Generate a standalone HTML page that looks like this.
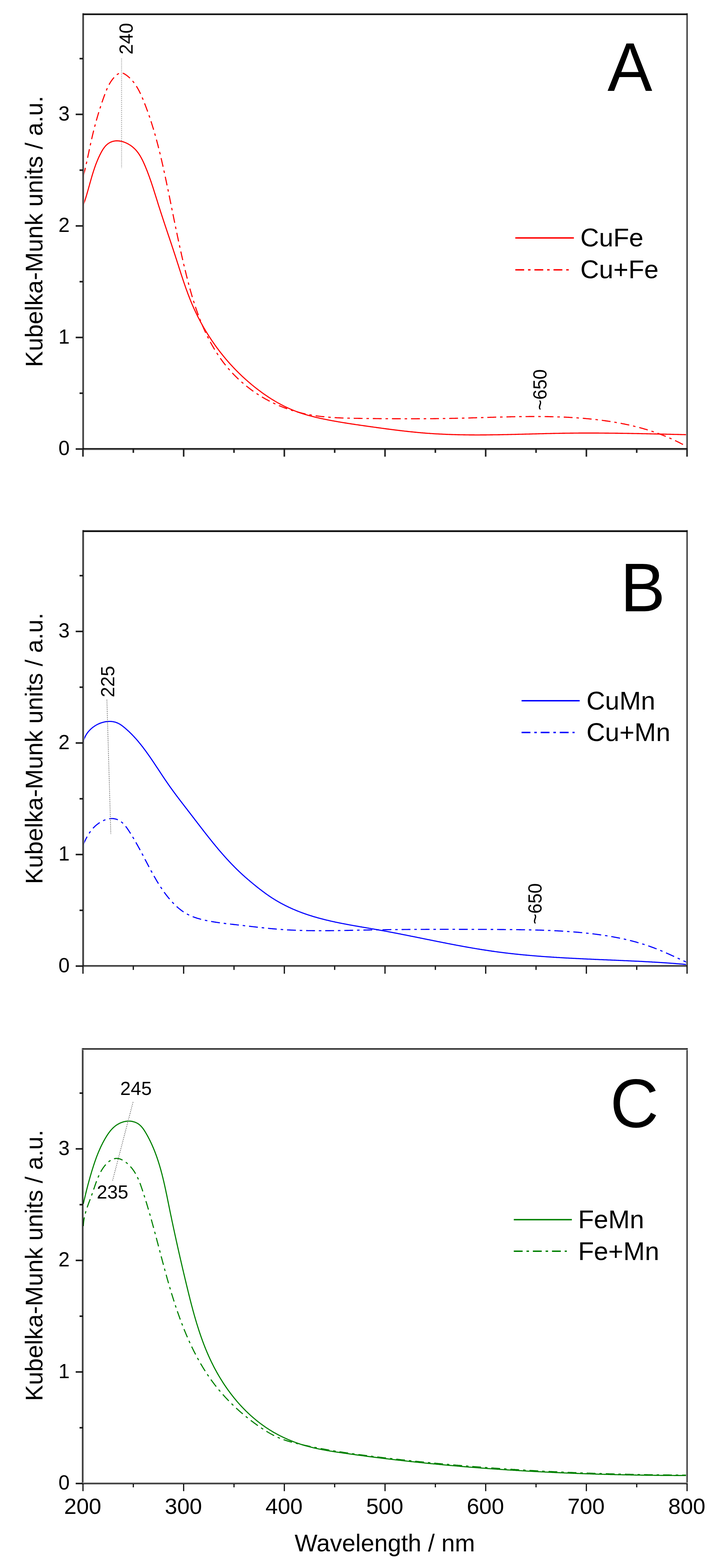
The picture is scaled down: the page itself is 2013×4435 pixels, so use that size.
<!DOCTYPE html><html><head><meta charset="utf-8"><title>Kubelka-Munk spectra</title>
<style>html,body{margin:0;padding:0;background:#fff}svg{display:block}text{font-family:'Liberation Sans', Arial, sans-serif;fill:#000}</style></head><body>
<svg width="2013" height="4435" viewBox="0 0 2013 4435">
<rect x="0" y="0" width="2013" height="4435" fill="#fff"/>
<clipPath id="clipA"><rect x="234.6" y="40" width="1707.9" height="1230"/></clipPath>
<g clip-path="url(#clipA)" fill="none" stroke="#ff0000" stroke-width="3.1" stroke-linejoin="round">
<path d="M235.4,580.5 236.1,578.6 236.8,576.7 237.4,574.8 238.1,572.9 238.7,571 239.4,569.1 240,567.2 240.6,565.3 241.2,563.4 241.8,561.5 242.4,559.6 243,557.7 243.6,555.8 244.1,553.9 244.7,552 245.3,550.1 245.8,548.1 246.4,546.2 247,544.3 247.5,542.4 248,540.5 248.6,538.6 249.1,536.6 249.7,534.7 250.2,532.8 250.7,530.9 251.3,528.9 251.8,527 252.4,525.1 252.9,523.2 253.4,521.3 254,519.3 254.5,517.4 255,515.5 255.6,513.6 256.1,511.7 256.7,509.7 257.2,507.8 257.8,505.9 258.3,504 258.9,502.1 259.4,500.1 260,498.2 260.6,496.3 261.1,494.4 261.7,492.5 262.3,490.6 262.9,488.7 263.5,486.8 264.1,484.9 264.7,483 265.3,481.1 266,479.2 266.6,477.3 267.2,475.4 267.9,473.5 268.6,471.6 269.2,469.7 269.9,467.8 270.6,465.9 271.3,464 272,462.2 272.8,460.3 273.5,458.4 274.3,456.5 275,454.7 275.8,452.8 276.6,451 277.4,449.1 278.2,447.2 279,445.4 279.9,443.5 280.8,441.7 281.6,439.9 282.5,438 283.4,436.2 284.4,434.4 285.3,432.5 286.3,430.7 287.2,428.9 288.3,427.2 289.3,425.4 290.3,423.7 291.4,422 292.5,420.3 293.7,418.7 294.9,417.1 296.1,415.6 297.3,414.1 298.6,412.6 300,411.2 301.4,409.9 302.8,408.6 304.2,407.4 305.8,406.3 307.3,405.2 308.9,404.2 310.5,403.3 312.2,402.4 313.9,401.7 315.7,401 317.4,400.4 319.2,399.8 321,399.4 322.9,399 324.8,398.7 326.6,398.5 328.5,398.4 330.5,398.3 332.4,398.4 334.3,398.5 336.3,398.6 338.2,398.9 340.2,399.2 342.1,399.6 344.1,400 346,400.5 348,401.1 349.9,401.7 351.9,402.4 353.8,403.1 355.7,403.9 357.6,404.8 359.4,405.7 361.3,406.6 363.1,407.6 364.9,408.7 366.7,409.8 368.4,410.9 370.1,412.1 371.8,413.3 373.4,414.5 375,415.8 376.6,417.1 378.1,418.5 379.6,419.8 381.1,421.2 382.5,422.7 383.8,424.1 385.1,425.6 386.4,427.1 387.7,428.7 388.9,430.2 390.1,431.8 391.3,433.4 392.4,435.1 393.5,436.7 394.6,438.4 395.7,440.1 396.7,441.8 397.7,443.5 398.7,445.2 399.6,447 400.6,448.7 401.5,450.5 402.4,452.3 403.3,454.1 404.2,455.9 405,457.7 405.9,459.5 406.7,461.4 407.5,463.2 408.3,465 409.1,466.9 409.9,468.7 410.7,470.6 411.5,472.4 412.2,474.3 413,476.1 413.7,478 414.5,479.9 415.2,481.7 416,483.6 416.7,485.4 417.4,487.3 418.1,489.2 418.8,491 419.5,492.9 420.2,494.8 420.9,496.7 421.6,498.5 422.3,500.4 423,502.3 423.6,504.2 424.3,506.1 425,508 425.6,509.8 426.3,511.7 426.9,513.6 427.6,515.5 428.2,517.4 428.8,519.3 429.5,521.2 430.1,523.1 430.7,525 431.3,526.9 432,528.8 432.6,530.7 433.2,532.6 433.8,534.5 434.4,536.4 435,538.3 435.6,540.2 436.2,542.1 436.8,544 437.4,545.9 438,547.8 438.6,549.7 439.2,551.6 439.8,553.5 440.4,555.4 441,557.3 441.6,559.2 442.2,561.1 442.8,563 443.4,564.9 444,566.8 444.6,568.7 445.2,570.6 445.8,572.5 446.3,574.4 446.9,576.3 447.5,578.2 448.1,580.1 448.7,582 449.3,583.9 449.9,585.8 450.6,587.7 451.2,589.6 451.8,591.5 452.4,593.4 453,595.3 453.6,597.2 454.2,599.1 454.8,601 455.4,602.9 456.1,604.8 456.7,606.7 457.3,608.6 457.9,610.5 458.5,612.4 459.2,614.3 459.8,616.2 460.4,618.1 461,620 461.7,621.9 462.3,623.8 462.9,625.7 463.5,627.6 464.2,629.5 464.8,631.4 465.4,633.3 466.1,635.2 466.7,637.1 467.3,639 467.9,640.9 468.6,642.7 469.2,644.6 469.8,646.5 470.5,648.4 471.1,650.3 471.7,652.2 472.4,654.1 473,656 473.6,657.9 474.3,659.8 474.9,661.7 475.5,663.6 476.2,665.5 476.8,667.4 477.5,669.3 478.1,671.2 478.7,673 479.4,674.9 480,676.8 480.6,678.7 481.3,680.6 481.9,682.5 482.5,684.4 483.2,686.3 483.8,688.2 484.4,690.1 485.1,692 485.7,693.9 486.3,695.8 486.9,697.7 487.6,699.6 488.2,701.5 488.8,703.4 489.5,705.3 490.1,707.2 490.7,709.1 491.3,711 492,712.9 492.6,714.8 493.2,716.7 493.8,718.6 494.5,720.5 495.1,722.4 495.7,724.3 496.3,726.2 496.9,728.1 497.5,730 498.2,731.9 498.8,733.8 499.4,735.7 500,737.6 500.6,739.5 501.2,741.4 501.8,743.3 502.4,745.2 503.1,747.1 503.7,749 504.3,750.9 504.9,752.8 505.5,754.7 506.1,756.7 506.7,758.6 507.3,760.5 507.9,762.4 508.6,764.3 509.2,766.2 509.8,768.1 510.4,770 511,771.9 511.6,773.8 512.2,775.7 512.9,777.6 513.5,779.5 514.1,781.4 514.7,783.3 515.4,785.2 516,787.1 516.6,789 517.2,790.9 517.9,792.8 518.5,794.7 519.2,796.6 519.8,798.5 520.4,800.4 521.1,802.3 521.7,804.1 522.4,806 523,807.9 523.7,809.8 524.3,811.7 525,813.6 525.7,815.5 526.3,817.3 527,819.2 527.7,821.1 528.4,823 529.1,824.8 529.8,826.7 530.4,828.6 531.1,830.5 531.8,832.3 532.6,834.2 533.3,836.1 534,837.9 534.7,839.8 535.4,841.6 536.1,843.5 536.9,845.4 537.6,847.2 538.4,849.1 539.1,850.9 539.9,852.8 540.6,854.6 541.4,856.4 542.2,858.3 542.9,860.1 543.7,861.9 544.5,863.8 545.3,865.6 546.1,867.4 546.9,869.3 547.7,871.1 548.5,872.9 549.4,874.7 550.2,876.5 551,878.3 551.9,880.2 552.7,882 553.6,883.8 554.4,885.6 555.3,887.4 556.2,889.2 557.1,890.9 557.9,892.7 558.8,894.5 559.7,896.3 560.6,898.1 561.5,899.9 562.4,901.6 563.4,903.4 564.3,905.2 565.2,906.9 566.2,908.7 567.1,910.5 568,912.2 569,914 570,915.7 570.9,917.5 571.9,919.2 572.9,921 573.9,922.7 574.8,924.4 575.8,926.2 576.8,927.9 577.8,929.6 578.9,931.3 579.9,933.1 580.9,934.8 581.9,936.5 583,938.2 584,939.9 585,941.6 586.1,943.3 587.1,945 588.2,946.7 589.3,948.4 590.3,950.1 591.4,951.8 592.5,953.4 593.6,955.1 594.7,956.8 595.8,958.4 596.9,960.1 598,961.8 599.1,963.4 600.2,965.1 601.4,966.7 602.5,968.4 603.6,970 604.8,971.7 605.9,973.3 607.1,974.9 608.2,976.6 609.4,978.2 610.6,979.8 611.7,981.4 612.9,983 614.1,984.6 615.3,986.2 616.5,987.8 617.7,989.4 618.9,991 620.1,992.6 621.3,994.2 622.6,995.8 623.8,997.4 625,998.9 626.3,1000.5 627.5,1002.1 628.8,1003.6 630,1005.2 631.3,1006.7 632.5,1008.3 633.8,1009.8 635.1,1011.3 636.4,1012.9 637.6,1014.4 638.9,1015.9 640.2,1017.5 641.5,1019 642.8,1020.5 644.1,1022 645.5,1023.5 646.8,1025 648.1,1026.5 649.4,1028 650.8,1029.5 652.1,1031 653.4,1032.4 654.8,1033.9 656.2,1035.4 657.5,1036.8 658.9,1038.3 660.2,1039.8 661.6,1041.2 663,1042.6 664.4,1044.1 665.8,1045.5 667.2,1047 668.6,1048.4 670,1049.8 671.4,1051.2 672.8,1052.6 674.2,1054 675.6,1055.4 677.1,1056.8 678.5,1058.2 679.9,1059.6 681.4,1061 682.8,1062.4 684.3,1063.8 685.7,1065.1 687.2,1066.5 688.7,1067.8 690.1,1069.2 691.6,1070.5 693.1,1071.9 694.6,1073.2 696.1,1074.6 697.6,1075.9 699.1,1077.2 700.6,1078.5 702.1,1079.8 703.6,1081.1 705.1,1082.4 706.6,1083.7 708.2,1085 709.7,1086.3 711.2,1087.6 712.8,1088.9 714.3,1090.1 715.9,1091.4 717.4,1092.7 719,1093.9 720.5,1095.2 722.1,1096.4 723.7,1097.6 725.2,1098.9 726.8,1100.1 728.4,1101.3 730,1102.5 731.6,1103.7 733.2,1104.9 734.8,1106.1 736.4,1107.3 738,1108.5 739.6,1109.7 741.2,1110.9 742.9,1112 744.5,1113.2 746.1,1114.4 747.8,1115.5 749.4,1116.6 751.1,1117.8 752.7,1118.9 754.4,1120 756,1121.1 757.7,1122.3 759.4,1123.4 761,1124.5 762.7,1125.5 764.4,1126.6 766.1,1127.7 767.8,1128.8 769.5,1129.8 771.2,1130.9 772.9,1131.9 774.6,1132.9 776.3,1134 778,1135 779.7,1136 781.5,1137 783.2,1138 784.9,1139 786.7,1140 788.4,1140.9 790.2,1141.9 791.9,1142.8 793.7,1143.8 795.4,1144.7 797.2,1145.6 799,1146.6 800.7,1147.5 802.5,1148.4 804.3,1149.3 806.1,1150.1 807.9,1151 809.7,1151.9 811.5,1152.7 813.3,1153.6 815.1,1154.4 816.9,1155.2 818.7,1156 820.5,1156.8 822.4,1157.6 824.2,1158.4 826,1159.2 827.9,1159.9 829.7,1160.7 831.6,1161.4 833.4,1162.2 835.3,1162.9 837.1,1163.6 839,1164.3 840.9,1165 842.8,1165.7 844.6,1166.3 846.5,1167 848.4,1167.7 850.3,1168.3 852.2,1168.9 854.1,1169.5 856,1170.2 857.9,1170.8 859.8,1171.3 861.7,1171.9 863.6,1172.5 865.5,1173.1 867.4,1173.6 869.4,1174.2 871.3,1174.7 873.2,1175.3 875.2,1175.8 877.1,1176.3 879,1176.8 881,1177.3 882.9,1177.8 884.8,1178.3 886.8,1178.8 888.7,1179.3 890.7,1179.8 892.6,1180.2 894.6,1180.7 896.5,1181.2 898.5,1181.6 900.4,1182.1 902.4,1182.5 904.3,1182.9 906.3,1183.4 908.3,1183.8 910.2,1184.2 912.2,1184.6 914.2,1185 916.1,1185.4 918.1,1185.8 920,1186.2 922,1186.6 924,1187 925.9,1187.4 927.9,1187.8 929.9,1188.2 931.8,1188.5 933.8,1188.9 935.8,1189.3 937.7,1189.7 939.7,1190 941.7,1190.4 943.6,1190.7 945.6,1191.1 947.6,1191.4 949.5,1191.8 951.5,1192.1 953.5,1192.5 955.4,1192.8 957.4,1193.2 959.4,1193.5 961.3,1193.8 963.3,1194.2 965.3,1194.5 967.2,1194.8 969.2,1195.2 971.2,1195.5 973.1,1195.8 975.1,1196.1 977.1,1196.4 979,1196.7 981,1197.1 983,1197.4 985,1197.7 986.9,1198 988.9,1198.3 990.9,1198.6 992.8,1198.9 994.8,1199.2 996.8,1199.5 998.8,1199.8 1000.7,1200.1 1002.7,1200.4 1004.7,1200.7 1006.6,1201 1008.6,1201.3 1010.6,1201.5 1012.6,1201.8 1014.5,1202.1 1016.5,1202.4 1018.5,1202.7 1020.5,1203 1022.4,1203.3 1024.4,1203.5 1026.4,1203.8 1028.4,1204.1 1030.3,1204.4 1032.3,1204.7 1034.3,1204.9 1036.3,1205.2 1038.2,1205.5 1040.2,1205.8 1042.2,1206.1 1044.2,1206.3 1046.1,1206.6 1048.1,1206.9 1050.1,1207.2 1052.1,1207.4 1054,1207.7 1056,1208 1058,1208.3 1060,1208.5 1062,1208.8 1063.9,1209.1 1065.9,1209.4 1067.9,1209.6 1069.9,1209.9 1071.9,1210.2 1073.8,1210.4 1075.8,1210.7 1077.8,1211 1079.8,1211.3 1081.8,1211.5 1083.7,1211.8 1085.7,1212.1 1087.7,1212.3 1089.7,1212.6 1091.7,1212.9 1093.6,1213.1 1095.6,1213.4 1097.6,1213.6 1099.6,1213.9 1101.6,1214.2 1103.6,1214.4 1105.5,1214.7 1107.5,1214.9 1109.5,1215.2 1111.5,1215.4 1113.5,1215.7 1115.5,1215.9 1117.4,1216.2 1119.4,1216.4 1121.4,1216.7 1123.4,1216.9 1125.4,1217.2 1127.4,1217.4 1129.3,1217.6 1131.3,1217.9 1133.3,1218.1 1135.3,1218.3 1137.3,1218.6 1139.3,1218.8 1141.3,1219 1143.2,1219.3 1145.2,1219.5 1147.2,1219.7 1149.2,1219.9 1151.2,1220.1 1153.2,1220.4 1155.2,1220.6 1157.2,1220.8 1159.1,1221 1161.1,1221.2 1163.1,1221.4 1165.1,1221.6 1167.1,1221.8 1169.1,1222 1171.1,1222.2 1173.1,1222.4 1175,1222.6 1177,1222.8 1179,1223 1181,1223.2 1183,1223.4 1185,1223.5 1187,1223.7 1189,1223.9 1191,1224.1 1193,1224.2 1194.9,1224.4 1196.9,1224.6 1198.9,1224.7 1200.9,1224.9 1202.9,1225.1 1204.9,1225.2 1206.9,1225.4 1208.9,1225.5 1210.9,1225.7 1212.9,1225.8 1214.9,1225.9 1216.8,1226.1 1218.8,1226.2 1220.8,1226.3 1222.8,1226.5 1224.8,1226.6 1226.8,1226.7 1228.8,1226.9 1230.8,1227 1232.8,1227.1 1234.8,1227.2 1236.8,1227.3 1238.8,1227.4 1240.8,1227.5 1242.8,1227.6 1244.7,1227.7 1246.7,1227.8 1248.7,1227.9 1250.7,1228 1252.7,1228.1 1254.7,1228.2 1256.7,1228.3 1258.7,1228.4 1260.7,1228.5 1262.7,1228.6 1264.7,1228.6 1266.7,1228.7 1268.7,1228.8 1270.7,1228.9 1272.7,1228.9 1274.7,1229 1276.7,1229.1 1278.6,1229.1 1280.6,1229.2 1282.6,1229.2 1284.6,1229.3 1286.6,1229.4 1288.6,1229.4 1290.6,1229.5 1292.6,1229.5 1294.6,1229.6 1296.6,1229.6 1298.6,1229.6 1300.6,1229.7 1302.6,1229.7 1304.6,1229.8 1306.6,1229.8 1308.6,1229.8 1310.6,1229.9 1312.6,1229.9 1314.6,1229.9 1316.6,1230 1318.6,1230 1320.6,1230 1322.6,1230 1324.6,1230 1326.6,1230.1 1328.6,1230.1 1330.6,1230.1 1332.6,1230.1 1334.5,1230.1 1336.5,1230.1 1338.5,1230.1 1340.5,1230.1 1342.5,1230.2 1344.5,1230.2 1346.5,1230.2 1348.5,1230.2 1350.5,1230.2 1352.5,1230.2 1354.5,1230.2 1356.5,1230.2 1358.5,1230.1 1360.5,1230.1 1362.5,1230.1 1364.5,1230.1 1366.5,1230.1 1368.5,1230.1 1370.5,1230.1 1372.5,1230.1 1374.5,1230.1 1376.5,1230 1378.5,1230 1380.5,1230 1382.5,1230 1384.5,1230 1386.5,1229.9 1388.5,1229.9 1390.5,1229.9 1392.5,1229.9 1394.5,1229.8 1396.5,1229.8 1398.5,1229.8 1400.5,1229.8 1402.5,1229.7 1404.5,1229.7 1406.5,1229.7 1408.5,1229.6 1410.5,1229.6 1412.5,1229.6 1414.5,1229.5 1416.5,1229.5 1418.5,1229.5 1420.5,1229.4 1422.5,1229.4 1424.5,1229.3 1426.5,1229.3 1428.5,1229.3 1430.5,1229.2 1432.5,1229.2 1434.5,1229.1 1436.5,1229.1 1438.5,1229 1440.5,1229 1442.5,1229 1444.5,1228.9 1446.5,1228.9 1448.5,1228.8 1450.5,1228.8 1452.5,1228.7 1454.5,1228.7 1456.5,1228.6 1458.5,1228.6 1460.5,1228.5 1462.5,1228.5 1464.5,1228.4 1466.5,1228.4 1468.5,1228.3 1470.5,1228.3 1472.5,1228.2 1474.5,1228.2 1476.5,1228.1 1478.5,1228.1 1480.5,1228 1482.5,1228 1484.5,1227.9 1486.5,1227.9 1488.5,1227.8 1490.5,1227.8 1492.5,1227.7 1494.5,1227.7 1496.5,1227.6 1498.5,1227.6 1500.5,1227.5 1502.5,1227.5 1504.5,1227.4 1506.5,1227.3 1508.5,1227.3 1510.5,1227.2 1512.5,1227.2 1514.5,1227.1 1516.5,1227.1 1518.5,1227 1520.5,1227 1522.5,1226.9 1524.5,1226.9 1526.5,1226.8 1528.5,1226.8 1530.5,1226.7 1532.5,1226.7 1534.5,1226.6 1536.5,1226.6 1538.5,1226.5 1540.5,1226.5 1542.5,1226.4 1544.5,1226.4 1546.5,1226.3 1548.5,1226.3 1550.5,1226.2 1552.5,1226.2 1554.5,1226.2 1556.5,1226.1 1558.5,1226.1 1560.5,1226 1562.5,1226 1564.5,1225.9 1566.5,1225.9 1568.5,1225.9 1570.5,1225.8 1572.5,1225.8 1574.5,1225.7 1576.5,1225.7 1578.5,1225.7 1580.5,1225.6 1582.5,1225.6 1584.5,1225.5 1586.5,1225.5 1588.5,1225.5 1590.5,1225.4 1592.5,1225.4 1594.5,1225.4 1596.5,1225.4 1598.4,1225.3 1600.4,1225.3 1602.4,1225.3 1604.4,1225.2 1606.4,1225.2 1608.4,1225.2 1610.4,1225.2 1612.4,1225.1 1614.4,1225.1 1616.4,1225.1 1618.4,1225.1 1620.4,1225.1 1622.4,1225 1624.4,1225 1626.4,1225 1628.4,1225 1630.4,1225 1632.4,1225 1634.4,1225 1636.4,1224.9 1638.4,1224.9 1640.4,1224.9 1642.4,1224.9 1644.4,1224.9 1646.4,1224.9 1648.4,1224.9 1650.4,1224.9 1652.4,1224.9 1654.4,1224.9 1656.4,1224.9 1658.4,1224.9 1660.4,1224.9 1662.4,1224.9 1664.4,1224.9 1666.4,1224.9 1668.4,1224.9 1670.4,1224.9 1672.3,1224.9 1674.3,1224.9 1676.3,1224.9 1678.3,1224.9 1680.3,1224.9 1682.3,1224.9 1684.3,1224.9 1686.3,1224.9 1688.3,1224.9 1690.3,1224.9 1692.3,1224.9 1694.3,1225 1696.3,1225 1698.3,1225 1700.3,1225 1702.3,1225 1704.3,1225 1706.3,1225 1708.3,1225 1710.3,1225.1 1712.3,1225.1 1714.3,1225.1 1716.3,1225.1 1718.3,1225.1 1720.3,1225.1 1722.3,1225.2 1724.3,1225.2 1726.2,1225.2 1728.2,1225.2 1730.2,1225.2 1732.2,1225.3 1734.2,1225.3 1736.2,1225.3 1738.2,1225.3 1740.2,1225.4 1742.2,1225.4 1744.2,1225.4 1746.2,1225.4 1748.2,1225.5 1750.2,1225.5 1752.2,1225.5 1754.2,1225.6 1756.2,1225.6 1758.2,1225.6 1760.2,1225.6 1762.2,1225.7 1764.2,1225.7 1766.2,1225.7 1768.2,1225.8 1770.2,1225.8 1772.2,1225.8 1774.2,1225.9 1776.2,1225.9 1778.2,1225.9 1780.1,1226 1782.1,1226 1784.1,1226 1786.1,1226.1 1788.1,1226.1 1790.1,1226.1 1792.1,1226.2 1794.1,1226.2 1796.1,1226.2 1798.1,1226.3 1800.1,1226.3 1802.1,1226.4 1804.1,1226.4 1806.1,1226.4 1808.1,1226.5 1810.1,1226.5 1812.1,1226.5 1814.1,1226.6 1816.1,1226.6 1818.1,1226.7 1820.1,1226.7 1822.1,1226.8 1824.1,1226.8 1826.1,1226.8 1828.1,1226.9 1830.1,1226.9 1832.1,1227 1834.1,1227 1836.1,1227 1838.1,1227.1 1840.1,1227.1 1842,1227.2 1844,1227.2 1846,1227.3 1848,1227.3 1850,1227.4 1852,1227.4 1854,1227.4 1856,1227.5 1858,1227.5 1860,1227.6 1862,1227.6 1864,1227.7 1866,1227.7 1868,1227.8 1870,1227.8 1872,1227.9 1874,1227.9 1876,1227.9 1878,1228 1880,1228 1882,1228.1 1884,1228.1 1886,1228.2 1888,1228.2 1890,1228.3 1892,1228.3 1894,1228.4 1896,1228.4 1898,1228.5 1900,1228.5 1902,1228.6 1904,1228.6 1906,1228.7 1908,1228.7 1910,1228.7 1912,1228.8 1914,1228.8 1916,1228.9 1918,1228.9 1920,1229 1922,1229 1924,1229.1 1926,1229.1 1928,1229.2 1930,1229.2 1932,1229.3 1934,1229.3 1936,1229.4 1938,1229.4 1940,1229.5 1942,1229.5"/>
<path d="M235.5,499 236,497.1 236.5,495.1 237,493.2 237.4,491.2 237.9,489.3 238.4,487.4 238.9,485.4 239.3,483.5 239.8,481.5 240.3,479.6 240.7,477.6 241.2,475.7 241.6,473.8 242.1,471.8 242.5,469.9 242.9,467.9 243.4,466 243.8,464 244.2,462.1 244.7,460.1 245.1,458.2 245.5,456.2 246,454.3 246.4,452.3 246.8,450.3 247.2,448.4 247.6,446.4 248.1,444.5 248.5,442.5 248.9,440.6 249.3,438.6 249.7,436.7 250.1,434.7 250.6,432.8 251,430.8 251.4,428.8 251.8,426.9 252.2,424.9 252.6,423 253.1,421 253.5,419.1 253.9,417.1 254.3,415.2 254.7,413.2 255.2,411.3 255.6,409.3 256,407.4 256.4,405.4 256.9,403.5 257.3,401.5 257.7,399.6 258.2,397.6 258.6,395.7 259,393.7 259.5,391.8 259.9,389.8 260.4,387.9 260.8,385.9 261.3,384 261.7,382 262.2,380.1 262.7,378.1 263.1,376.2 263.6,374.3 264.1,372.3 264.6,370.4 265.1,368.4 265.6,366.5 266,364.6 266.5,362.6 267,360.7 267.5,358.8 268.1,356.8 268.6,354.9 269.1,353 269.6,351 270.1,349.1 270.6,347.2 271.2,345.3 271.7,343.3 272.2,341.4 272.8,339.5 273.3,337.6 273.9,335.6 274.4,333.7 275,331.8 275.5,329.9 276.1,328 276.7,326.1 277.2,324.1 277.8,322.2 278.4,320.3 279,318.4 279.6,316.5 280.1,314.6 280.7,312.7 281.3,310.8 281.9,308.9 282.5,307 283.2,305.1 283.8,303.2 284.4,301.3 285,299.4 285.6,297.5 286.3,295.6 286.9,293.7 287.5,291.8 288.2,289.9 288.8,288 289.5,286.2 290.1,284.3 290.8,282.4 291.4,280.5 292.1,278.6 292.8,276.7 293.5,274.9 294.1,273 294.8,271.1 295.5,269.3 296.2,267.4 296.9,265.5 297.6,263.7 298.3,261.8 299,259.9 299.8,258.1 300.5,256.2 301.3,254.4 302,252.6 302.8,250.7 303.6,248.9 304.5,247.1 305.3,245.3 306.2,243.5 307.1,241.7 308,239.9 309,238.2 310,236.4 311,234.7 312.1,233 313.2,231.2 314.3,229.5 315.5,227.9 316.7,226.2 317.9,224.6 319.2,222.9 320.5,221.3 321.9,219.7 323.4,218.1 324.8,216.6 326.4,215.1 327.9,213.6 329.5,212.2 331.2,210.9 332.8,209.8 334.5,208.7 336.2,207.9 338,207.2 339.7,206.6 341.5,206.3 343.2,206.3 345,206.4 346.7,206.8 348.5,207.4 350.2,208.2 351.9,209.1 353.6,210.1 355.3,211.2 357,212.4 358.6,213.6 360.1,214.8 361.7,216 363.2,217.3 364.7,218.6 366.1,219.9 367.6,221.3 369,222.7 370.3,224.1 371.7,225.5 373,226.9 374.3,228.4 375.6,229.9 376.8,231.4 378,232.9 379.2,234.5 380.4,236.1 381.5,237.7 382.6,239.3 383.7,240.9 384.8,242.6 385.9,244.2 386.9,245.9 387.9,247.6 389,249.3 389.9,251 390.9,252.8 391.9,254.5 392.8,256.3 393.7,258.1 394.6,259.8 395.5,261.6 396.4,263.4 397.3,265.3 398.1,267.1 399,268.9 399.8,270.8 400.6,272.6 401.4,274.5 402.2,276.3 403,278.2 403.8,280 404.6,281.9 405.3,283.8 406.1,285.7 406.8,287.5 407.6,289.4 408.3,291.3 409.1,293.2 409.8,295.1 410.5,296.9 411.3,298.8 412,300.7 412.7,302.6 413.4,304.5 414.1,306.4 414.8,308.3 415.5,310.2 416.2,312 416.9,313.9 417.6,315.8 418.3,317.7 418.9,319.6 419.6,321.5 420.3,323.4 420.9,325.3 421.6,327.2 422.2,329.1 422.9,331 423.5,332.9 424.2,334.8 424.8,336.7 425.4,338.6 426,340.5 426.7,342.4 427.3,344.3 427.9,346.2 428.5,348.1 429.1,350 429.7,351.9 430.3,353.9 430.9,355.8 431.5,357.7 432.1,359.6 432.7,361.5 433.3,363.4 433.8,365.3 434.4,367.2 435,369.2 435.5,371.1 436.1,373 436.7,374.9 437.2,376.8 437.8,378.7 438.3,380.7 438.9,382.6 439.4,384.5 439.9,386.4 440.5,388.3 441,390.3 441.5,392.2 442.1,394.1 442.6,396 443.1,398 443.6,399.9 444.1,401.8 444.6,403.7 445.1,405.7 445.7,407.6 446.2,409.5 446.7,411.4 447.2,413.4 447.6,415.3 448.1,417.2 448.6,419.2 449.1,421.1 449.6,423 450.1,425 450.6,426.9 451,428.8 451.5,430.8 452,432.7 452.5,434.6 452.9,436.6 453.4,438.5 453.9,440.5 454.3,442.4 454.8,444.3 455.2,446.3 455.7,448.2 456.1,450.1 456.6,452.1 457.1,454 457.5,456 457.9,457.9 458.4,459.9 458.8,461.8 459.3,463.7 459.7,465.7 460.2,467.6 460.6,469.6 461,471.5 461.5,473.5 461.9,475.4 462.3,477.4 462.7,479.3 463.2,481.2 463.6,483.2 464,485.1 464.5,487.1 464.9,489 465.3,491 465.7,492.9 466.1,494.9 466.6,496.8 467,498.8 467.4,500.7 467.8,502.7 468.2,504.6 468.6,506.6 469,508.5 469.5,510.5 469.9,512.4 470.3,514.4 470.7,516.4 471.1,518.3 471.5,520.3 471.9,522.2 472.3,524.2 472.7,526.1 473.1,528.1 473.5,530 473.9,532 474.3,533.9 474.8,535.9 475.2,537.9 475.6,539.8 476,541.8 476.4,543.7 476.8,545.7 477.2,547.6 477.6,549.6 478,551.6 478.4,553.5 478.8,555.5 479.2,557.4 479.6,559.4 480,561.3 480.4,563.3 480.8,565.3 481.2,567.2 481.6,569.2 482,571.1 482.4,573.1 482.8,575 483.2,577 483.5,579 483.9,580.9 484.3,582.9 484.7,584.8 485.1,586.8 485.5,588.8 485.9,590.7 486.3,592.7 486.7,594.6 487.1,596.6 487.5,598.6 487.9,600.5 488.3,602.5 488.7,604.4 489.1,606.4 489.5,608.4 489.9,610.3 490.3,612.3 490.7,614.2 491.1,616.2 491.5,618.2 491.9,620.1 492.3,622.1 492.7,624 493.1,626 493.5,628 493.9,629.9 494.3,631.9 494.7,633.8 495.1,635.8 495.5,637.8 495.9,639.7 496.3,641.7 496.7,643.6 497.1,645.6 497.5,647.5 497.9,649.5 498.4,651.5 498.8,653.4 499.2,655.4 499.6,657.3 500,659.3 500.4,661.3 500.8,663.2 501.2,665.2 501.6,667.1 502,669.1 502.5,671 502.9,673 503.3,675 503.7,676.9 504.1,678.9 504.5,680.8 505,682.8 505.4,684.7 505.8,686.7 506.2,688.6 506.6,690.6 507.1,692.6 507.5,694.5 507.9,696.5 508.3,698.4 508.8,700.4 509.2,702.3 509.6,704.3 510.1,706.2 510.5,708.2 510.9,710.1 511.4,712.1 511.8,714 512.2,716 512.7,717.9 513.1,719.9 513.5,721.8 514,723.8 514.4,725.7 514.9,727.7 515.3,729.6 515.8,731.6 516.2,733.5 516.7,735.5 517.1,737.4 517.6,739.4 518,741.3 518.5,743.3 518.9,745.2 519.4,747.2 519.8,749.1 520.3,751 520.8,753 521.2,754.9 521.7,756.9 522.2,758.8 522.6,760.8 523.1,762.7 523.6,764.6 524.1,766.6 524.5,768.5 525,770.5 525.5,772.4 526,774.3 526.4,776.3 526.9,778.2 527.4,780.2 527.9,782.1 528.4,784 528.9,786 529.4,787.9 529.9,789.8 530.4,791.8 530.9,793.7 531.4,795.6 531.9,797.6 532.4,799.5 532.9,801.4 533.4,803.4 533.9,805.3 534.4,807.2 535,809.1 535.5,811.1 536,813 536.5,814.9 537.1,816.8 537.6,818.8 538.1,820.7 538.7,822.6 539.2,824.5 539.8,826.5 540.3,828.4 540.9,830.3 541.4,832.2 542,834.1 542.5,836 543.1,838 543.7,839.9 544.3,841.8 544.8,843.7 545.4,845.6 546,847.5 546.6,849.4 547.2,851.3 547.8,853.2 548.4,855.1 549,857 549.6,858.9 550.2,860.8 550.8,862.7 551.4,864.6 552.1,866.5 552.7,868.4 553.3,870.3 554,872.2 554.6,874.1 555.3,876 555.9,877.9 556.6,879.7 557.3,881.6 557.9,883.5 558.6,885.4 559.3,887.3 560,889.1 560.6,891 561.3,892.9 562,894.8 562.7,896.6 563.5,898.5 564.2,900.4 564.9,902.2 565.6,904.1 566.4,906 567.1,907.8 567.8,909.7 568.6,911.5 569.3,913.4 570.1,915.2 570.9,917.1 571.6,918.9 572.4,920.8 573.2,922.6 574,924.5 574.8,926.3 575.6,928.1 576.4,930 577.2,931.8 578,933.6 578.9,935.5 579.7,937.3 580.5,939.1 581.4,940.9 582.2,942.7 583.1,944.5 584,946.3 584.8,948.1 585.7,949.9 586.6,951.7 587.5,953.5 588.4,955.3 589.3,957.1 590.2,958.9 591.1,960.6 592,962.4 593,964.2 593.9,965.9 594.9,967.7 595.8,969.5 596.8,971.2 597.7,973 598.7,974.7 599.7,976.5 600.7,978.2 601.7,979.9 602.7,981.6 603.7,983.4 604.7,985.1 605.7,986.8 606.7,988.5 607.8,990.2 608.8,991.9 609.9,993.6 610.9,995.3 612,997 613.1,998.7 614.2,1000.3 615.2,1002 616.3,1003.7 617.5,1005.3 618.6,1007 619.7,1008.6 620.8,1010.3 622,1011.9 623.1,1013.5 624.2,1015.2 625.4,1016.8 626.6,1018.4 627.8,1020 628.9,1021.6 630.1,1023.2 631.3,1024.8 632.5,1026.4 633.8,1027.9 635,1029.5 636.2,1031.1 637.5,1032.6 638.7,1034.2 640,1035.7 641.2,1037.3 642.5,1038.8 643.8,1040.3 645.1,1041.9 646.4,1043.4 647.7,1044.9 649,1046.4 650.3,1047.9 651.7,1049.4 653,1050.8 654.3,1052.3 655.7,1053.8 657.1,1055.2 658.4,1056.7 659.8,1058.1 661.2,1059.6 662.6,1061 664,1062.4 665.4,1063.8 666.8,1065.2 668.2,1066.6 669.7,1068 671.1,1069.4 672.5,1070.8 674,1072.2 675.5,1073.5 676.9,1074.9 678.4,1076.3 679.9,1077.6 681.4,1078.9 682.9,1080.3 684.4,1081.6 685.9,1082.9 687.4,1084.2 688.9,1085.5 690.4,1086.8 692,1088.1 693.5,1089.4 695.1,1090.6 696.6,1091.9 698.2,1093.1 699.7,1094.4 701.3,1095.6 702.9,1096.8 704.5,1098.1 706.1,1099.3 707.7,1100.5 709.3,1101.7 710.9,1102.9 712.5,1104 714.1,1105.2 715.8,1106.4 717.4,1107.5 719,1108.7 720.7,1109.8 722.3,1110.9 724,1112.1 725.7,1113.2 727.3,1114.3 729,1115.4 730.7,1116.5 732.4,1117.5 734.1,1118.6 735.8,1119.7 737.5,1120.7 739.2,1121.8 740.9,1122.8 742.6,1123.8 744.3,1124.8 746.1,1125.8 747.8,1126.8 749.5,1127.8 751.3,1128.8 753,1129.8 754.8,1130.7 756.6,1131.7 758.3,1132.6 760.1,1133.6 761.9,1134.5 763.7,1135.4 765.4,1136.3 767.2,1137.2 769,1138.1 770.8,1139 772.6,1139.9 774.4,1140.7 776.2,1141.6 778.1,1142.4 779.9,1143.3 781.7,1144.1 783.5,1144.9 785.4,1145.7 787.2,1146.5 789,1147.3 790.9,1148.1 792.7,1148.8 794.6,1149.6 796.4,1150.4 798.3,1151.1 800.2,1151.8 802,1152.6 803.9,1153.3 805.8,1154 807.7,1154.7 809.5,1155.3 811.4,1156 813.3,1156.7 815.2,1157.3 817.1,1158 819,1158.6 820.9,1159.3 822.8,1159.9 824.7,1160.5 826.6,1161.1 828.5,1161.7 830.4,1162.3 832.3,1162.8 834.2,1163.4 836.2,1163.9 838.1,1164.5 840,1165 841.9,1165.5 843.9,1166.1 845.8,1166.6 847.7,1167.1 849.7,1167.5 851.6,1168 853.5,1168.5 855.5,1168.9 857.4,1169.4 859.4,1169.8 861.3,1170.3 863.2,1170.7 865.2,1171.1 867.1,1171.5 869.1,1171.9 871,1172.3 873,1172.6 875,1173 876.9,1173.4 878.9,1173.7 880.8,1174 882.8,1174.4 884.8,1174.7 886.7,1175 888.7,1175.3 890.6,1175.6 892.6,1175.9 894.6,1176.2 896.6,1176.5 898.5,1176.7 900.5,1177 902.5,1177.2 904.4,1177.5 906.4,1177.7 908.4,1178 910.4,1178.2 912.3,1178.4 914.3,1178.6 916.3,1178.8 918.3,1179 920.3,1179.2 922.3,1179.4 924.2,1179.6 926.2,1179.8 928.2,1179.9 930.2,1180.1 932.2,1180.3 934.2,1180.4 936.2,1180.6 938.2,1180.7 940.1,1180.8 942.1,1181 944.1,1181.1 946.1,1181.2 948.1,1181.3 950.1,1181.4 952.1,1181.6 954.1,1181.7 956.1,1181.8 958.1,1181.9 960.1,1181.9 962.1,1182 964.1,1182.1 966.1,1182.2 968.1,1182.3 970.1,1182.4 972.1,1182.4 974.1,1182.5 976.1,1182.6 978.1,1182.6 980.1,1182.7 982.1,1182.7 984.1,1182.8 986.1,1182.8 988.1,1182.9 990.1,1182.9 992.1,1183 994.1,1183 996.1,1183.1 998.1,1183.1 1000.1,1183.1 1002.1,1183.2 1004.1,1183.2 1006.1,1183.3 1008.1,1183.3 1010.1,1183.3 1012.1,1183.3 1014.1,1183.4 1016.1,1183.4 1018.1,1183.4 1020.1,1183.5 1022.1,1183.5 1024.1,1183.5 1026.1,1183.5 1028.1,1183.6 1030.1,1183.6 1032.1,1183.6 1034.1,1183.6 1036.2,1183.7 1038.2,1183.7 1040.2,1183.7 1042.2,1183.7 1044.2,1183.8 1046.2,1183.8 1048.2,1183.8 1050.2,1183.8 1052.2,1183.8 1054.2,1183.9 1056.2,1183.9 1058.2,1183.9 1060.2,1183.9 1062.2,1184 1064.2,1184 1066.2,1184 1068.2,1184 1070.2,1184 1072.2,1184.1 1074.2,1184.1 1076.2,1184.1 1078.2,1184.1 1080.2,1184.1 1082.2,1184.1 1084.2,1184.2 1086.2,1184.2 1088.2,1184.2 1090.2,1184.2 1092.2,1184.2 1094.2,1184.2 1096.1,1184.3 1098.1,1184.3 1100.1,1184.3 1102.1,1184.3 1104.1,1184.3 1106.1,1184.3 1108.1,1184.3 1110.1,1184.3 1112.1,1184.4 1114.1,1184.4 1116.1,1184.4 1118.1,1184.4 1120.1,1184.4 1122.1,1184.4 1124.1,1184.4 1126.1,1184.4 1128.1,1184.4 1130.1,1184.4 1132.1,1184.4 1134.1,1184.4 1136.1,1184.5 1138.1,1184.5 1140.1,1184.5 1142.1,1184.5 1144.1,1184.5 1146.1,1184.5 1148.1,1184.5 1150.1,1184.5 1152.1,1184.5 1154.1,1184.5 1156.1,1184.5 1158.1,1184.5 1160.1,1184.5 1162.1,1184.5 1164,1184.5 1166,1184.5 1168,1184.5 1170,1184.5 1172,1184.5 1174,1184.5 1176,1184.5 1178,1184.5 1180,1184.4 1182,1184.4 1184,1184.4 1186,1184.4 1188,1184.4 1190,1184.4 1192,1184.4 1194,1184.4 1196,1184.4 1198,1184.4 1200,1184.4 1202,1184.3 1204,1184.3 1206,1184.3 1208,1184.3 1210,1184.3 1212,1184.3 1213.9,1184.3 1215.9,1184.2 1217.9,1184.2 1219.9,1184.2 1221.9,1184.2 1223.9,1184.2 1225.9,1184.1 1227.9,1184.1 1229.9,1184.1 1231.9,1184.1 1233.9,1184 1235.9,1184 1237.9,1184 1239.9,1184 1241.9,1183.9 1243.9,1183.9 1245.9,1183.9 1247.9,1183.9 1249.9,1183.8 1251.9,1183.8 1253.9,1183.8 1255.9,1183.7 1257.9,1183.7 1259.9,1183.7 1261.9,1183.6 1263.9,1183.6 1265.9,1183.6 1267.8,1183.5 1269.8,1183.5 1271.8,1183.5 1273.8,1183.4 1275.8,1183.4 1277.8,1183.3 1279.8,1183.3 1281.8,1183.3 1283.8,1183.2 1285.8,1183.2 1287.8,1183.1 1289.8,1183.1 1291.8,1183 1293.8,1183 1295.8,1183 1297.8,1182.9 1299.8,1182.9 1301.8,1182.8 1303.8,1182.8 1305.8,1182.7 1307.8,1182.7 1309.8,1182.6 1311.8,1182.6 1313.8,1182.5 1315.8,1182.4 1317.8,1182.4 1319.8,1182.3 1321.8,1182.3 1323.8,1182.2 1325.8,1182.2 1327.8,1182.1 1329.8,1182.1 1331.8,1182 1333.8,1181.9 1335.8,1181.9 1337.8,1181.8 1339.8,1181.8 1341.8,1181.7 1343.8,1181.7 1345.8,1181.6 1347.8,1181.5 1349.8,1181.5 1351.8,1181.4 1353.8,1181.4 1355.8,1181.3 1357.8,1181.2 1359.8,1181.2 1361.8,1181.1 1363.8,1181.1 1365.8,1181 1367.8,1180.9 1369.8,1180.9 1371.8,1180.8 1373.8,1180.8 1375.8,1180.7 1377.8,1180.6 1379.8,1180.6 1381.8,1180.5 1383.8,1180.5 1385.8,1180.4 1387.8,1180.3 1389.8,1180.3 1391.8,1180.2 1393.8,1180.2 1395.8,1180.1 1397.8,1180 1399.8,1180 1401.8,1179.9 1403.8,1179.9 1405.8,1179.8 1407.8,1179.8 1409.8,1179.7 1411.8,1179.7 1413.8,1179.6 1415.8,1179.6 1417.8,1179.5 1419.8,1179.5 1421.8,1179.4 1423.8,1179.3 1425.8,1179.3 1427.8,1179.2 1429.8,1179.2 1431.8,1179.2 1433.8,1179.1 1435.8,1179.1 1437.8,1179 1439.8,1179 1441.8,1178.9 1443.8,1178.9 1445.8,1178.8 1447.8,1178.8 1449.8,1178.8 1451.8,1178.7 1453.8,1178.7 1455.8,1178.6 1457.8,1178.6 1459.8,1178.6 1461.8,1178.5 1463.8,1178.5 1465.8,1178.5 1467.8,1178.4 1469.8,1178.4 1471.8,1178.4 1473.8,1178.4 1475.8,1178.3 1477.8,1178.3 1479.8,1178.3 1481.8,1178.3 1483.8,1178.2 1485.8,1178.2 1487.8,1178.2 1489.8,1178.2 1491.8,1178.2 1493.8,1178.2 1495.8,1178.1 1497.8,1178.1 1499.8,1178.1 1501.8,1178.1 1503.8,1178.1 1505.8,1178.1 1507.8,1178.1 1509.8,1178.1 1511.8,1178.1 1513.8,1178.1 1515.8,1178.1 1517.8,1178.1 1519.7,1178.1 1521.7,1178.1 1523.7,1178.1 1525.7,1178.1 1527.7,1178.2 1529.7,1178.2 1531.7,1178.2 1533.7,1178.2 1535.7,1178.2 1537.7,1178.3 1539.7,1178.3 1541.7,1178.3 1543.7,1178.3 1545.7,1178.4 1547.7,1178.4 1549.7,1178.4 1551.7,1178.5 1553.7,1178.5 1555.7,1178.6 1557.7,1178.6 1559.7,1178.6 1561.7,1178.7 1563.7,1178.7 1565.7,1178.8 1567.7,1178.8 1569.7,1178.9 1571.7,1179 1573.7,1179 1575.7,1179.1 1577.7,1179.2 1579.6,1179.2 1581.6,1179.3 1583.6,1179.4 1585.6,1179.4 1587.6,1179.5 1589.6,1179.6 1591.6,1179.7 1593.6,1179.8 1595.6,1179.9 1597.6,1179.9 1599.6,1180 1601.6,1180.1 1603.6,1180.2 1605.6,1180.3 1607.6,1180.4 1609.6,1180.5 1611.6,1180.7 1613.5,1180.8 1615.5,1180.9 1617.5,1181 1619.5,1181.1 1621.5,1181.2 1623.5,1181.4 1625.5,1181.5 1627.5,1181.6 1629.5,1181.8 1631.5,1181.9 1633.5,1182 1635.5,1182.2 1637.5,1182.3 1639.4,1182.5 1641.4,1182.6 1643.4,1182.8 1645.4,1182.9 1647.4,1183.1 1649.4,1183.3 1651.4,1183.4 1653.4,1183.6 1655.4,1183.8 1657.4,1184 1659.3,1184.2 1661.3,1184.3 1663.3,1184.5 1665.3,1184.7 1667.3,1184.9 1669.3,1185.1 1671.3,1185.3 1673.3,1185.5 1675.3,1185.7 1677.2,1185.9 1679.2,1186.1 1681.2,1186.4 1683.2,1186.6 1685.2,1186.8 1687.2,1187 1689.2,1187.3 1691.2,1187.5 1693.1,1187.8 1695.1,1188 1697.1,1188.2 1699.1,1188.5 1701.1,1188.8 1703.1,1189 1705,1189.3 1707,1189.5 1709,1189.8 1711,1190.1 1713,1190.4 1715,1190.7 1716.9,1190.9 1718.9,1191.2 1720.9,1191.5 1722.9,1191.8 1724.8,1192.1 1726.8,1192.4 1728.8,1192.8 1730.8,1193.1 1732.8,1193.4 1734.7,1193.7 1736.7,1194 1738.7,1194.4 1740.6,1194.7 1742.6,1195.1 1744.6,1195.4 1746.6,1195.8 1748.5,1196.1 1750.5,1196.5 1752.5,1196.9 1754.4,1197.2 1756.4,1197.6 1758.3,1198 1760.3,1198.4 1762.3,1198.8 1764.2,1199.1 1766.2,1199.5 1768.1,1200 1770.1,1200.4 1772.1,1200.8 1774,1201.2 1776,1201.6 1777.9,1202.1 1779.9,1202.5 1781.8,1202.9 1783.8,1203.4 1785.7,1203.8 1787.7,1204.3 1789.6,1204.7 1791.5,1205.2 1793.5,1205.7 1795.4,1206.2 1797.4,1206.6 1799.3,1207.1 1801.2,1207.6 1803.2,1208.1 1805.1,1208.6 1807,1209.1 1808.9,1209.6 1810.9,1210.2 1812.8,1210.7 1814.7,1211.2 1816.6,1211.8 1818.6,1212.3 1820.5,1212.9 1822.4,1213.4 1824.3,1214 1826.2,1214.5 1828.1,1215.1 1830,1215.7 1831.9,1216.3 1833.8,1216.9 1835.7,1217.5 1837.6,1218.1 1839.5,1218.7 1841.4,1219.3 1843.3,1219.9 1845.2,1220.5 1847.1,1221.2 1849,1221.8 1850.9,1222.5 1852.8,1223.1 1854.7,1223.8 1856.5,1224.4 1858.4,1225.1 1860.3,1225.8 1862.2,1226.5 1864,1227.2 1865.9,1227.9 1867.8,1228.6 1869.6,1229.3 1871.5,1230 1873.4,1230.7 1875.2,1231.5 1877.1,1232.2 1878.9,1232.9 1880.8,1233.7 1882.6,1234.5 1884.5,1235.2 1886.3,1236 1888.1,1236.8 1890,1237.6 1891.8,1238.4 1893.6,1239.2 1895.5,1240 1897.3,1240.8 1899.1,1241.6 1900.9,1242.4 1902.7,1243.3 1904.6,1244.1 1906.4,1245 1908.2,1245.8 1910,1246.7 1911.8,1247.6 1913.6,1248.4 1915.4,1249.3 1917.2,1250.2 1919,1251.1 1920.8,1252 1922.5,1252.9 1924.3,1253.9 1926.1,1254.8 1927.9,1255.7 1929.7,1256.7 1931.4,1257.6 1933.2,1258.6 1935,1259.6 1936.7,1260.6 1938.5,1261.5 1940.2,1262.5 1942,1263.5" stroke-dasharray="25 11 7 11"/>
</g>
<g fill="#000">
<rect x="233.3" y="37.4" width="2.8" height="1235.2" fill="#000"/>
<rect x="236.1" y="37.4" width="2.3" height="1235.2" fill="#aaa"/>
<rect x="1939.3" y="37.4" width="2.5" height="1235.2" fill="#aaa"/>
<rect x="1941.8" y="37.4" width="2.3" height="1235.2" fill="#000"/>
<rect x="233.3" y="37.6" width="1711" height="1.2" fill="#555"/>
<rect x="233.3" y="38.8" width="1711" height="3.8" fill="#0a0a0a"/>
<rect x="233.3" y="1267.5" width="1711" height="2.5" fill="#000"/>
<rect x="233.3" y="1270" width="1711" height="2.8" fill="#595959"/>
<rect x="214" y="1267.8" width="19.5" height="4.4" fill="#1a1a1a"/>
<rect x="224.9" y="1110" width="8.6" height="4.4" fill="#1a1a1a"/>
<rect x="214" y="952.3" width="19.5" height="4.4" fill="#1a1a1a"/>
<rect x="224.9" y="794.5" width="8.6" height="4.4" fill="#1a1a1a"/>
<rect x="214" y="636.8" width="19.5" height="4.4" fill="#1a1a1a"/>
<rect x="224.9" y="479.1" width="8.6" height="4.4" fill="#1a1a1a"/>
<rect x="214" y="321.3" width="19.5" height="4.4" fill="#1a1a1a"/>
<rect x="224.9" y="163.6" width="8.6" height="4.4" fill="#1a1a1a"/>
<rect x="232.3" y="1270" width="4.5" height="21.6" fill="#262626"/>
<rect x="374.7" y="1270" width="4.5" height="10.8" fill="#262626"/>
<rect x="517" y="1270" width="4.5" height="21.6" fill="#262626"/>
<rect x="659.3" y="1270" width="4.5" height="10.8" fill="#262626"/>
<rect x="801.6" y="1270" width="4.5" height="21.6" fill="#262626"/>
<rect x="944" y="1270" width="4.5" height="10.8" fill="#262626"/>
<rect x="1086.3" y="1270" width="4.5" height="21.6" fill="#262626"/>
<rect x="1228.6" y="1270" width="4.5" height="10.8" fill="#262626"/>
<rect x="1370.9" y="1270" width="4.5" height="21.6" fill="#262626"/>
<rect x="1513.3" y="1270" width="4.5" height="10.8" fill="#262626"/>
<rect x="1655.6" y="1270" width="4.5" height="21.6" fill="#262626"/>
<rect x="1797.9" y="1270" width="4.5" height="10.8" fill="#262626"/>
<rect x="1940.2" y="1270" width="4.5" height="21.6" fill="#262626"/>
</g>
<text x="197" y="1287" font-size="57" text-anchor="end">0</text>
<text x="197" y="971.5" font-size="57" text-anchor="end">1</text>
<text x="197" y="656" font-size="57" text-anchor="end">2</text>
<text x="197" y="340.5" font-size="57" text-anchor="end">3</text>
<text transform="translate(120.3,1038.3) rotate(-90)" font-size="68">Kubelka-Munk units / a.u.</text>
<line x1="1456.9" y1="673.1" x2="1622.5" y2="673.1" stroke="#ff0000" stroke-width="4"/>
<line x1="1456.9" y1="763.2" x2="1609" y2="763.2" stroke="#ff0000" stroke-width="4" stroke-dasharray="25 11 7 11"/>
<text x="1640.7" y="697.2" font-size="73">CuFe</text>
<text x="1640.7" y="787.4" font-size="73">Cu+Fe</text>
<text transform="translate(1717.5,257.2) scale(1,1.03)" font-size="190">A</text>
<clipPath id="clipB"><rect x="234.6" y="1502" width="1707.9" height="1230.5"/></clipPath>
<g clip-path="url(#clipB)" fill="none" stroke="#0000ff" stroke-width="3.1" stroke-linejoin="round">
<path d="M235.5,2099 235.9,2097 236.4,2095.1 236.9,2093.2 237.5,2091.3 238.2,2089.5 238.9,2087.6 239.7,2085.8 240.5,2084 241.4,2082.2 242.3,2080.5 243.3,2078.7 244.3,2077 245.4,2075.4 246.6,2073.7 247.7,2072.1 249,2070.5 250.2,2069 251.5,2067.5 252.9,2066 254.3,2064.5 255.7,2063.1 257.2,2061.7 258.7,2060.4 260.2,2059.1 261.8,2057.8 263.4,2056.6 265.1,2055.4 266.7,2054.2 268.4,2053.1 270.1,2052 271.9,2051 273.6,2050 275.4,2049.1 277.3,2048.2 279.1,2047.3 280.9,2046.5 282.8,2045.7 284.7,2045 286.6,2044.4 288.5,2043.7 290.4,2043.2 292.4,2042.7 294.3,2042.2 296.3,2041.8 298.2,2041.4 300.2,2041.1 302.2,2040.9 304.1,2040.7 306.1,2040.6 308.1,2040.5 310.1,2040.5 312,2040.5 314,2040.6 315.9,2040.8 317.9,2041 319.8,2041.3 321.7,2041.7 323.6,2042.1 325.5,2042.6 327.4,2043.1 329.2,2043.8 331,2044.5 332.8,2045.2 334.6,2046.1 336.3,2047 338,2047.9 339.7,2048.9 341.4,2050 343,2051.1 344.7,2052.3 346.3,2053.5 347.9,2054.7 349.4,2056 351,2057.2 352.6,2058.5 354.1,2059.8 355.6,2061.1 357.1,2062.5 358.6,2063.8 360.1,2065.1 361.6,2066.5 363.1,2067.9 364.6,2069.2 366,2070.6 367.4,2072 368.9,2073.4 370.3,2074.8 371.7,2076.2 373.1,2077.6 374.5,2079.1 375.9,2080.5 377.2,2082 378.6,2083.4 380,2084.9 381.3,2086.4 382.6,2087.8 384,2089.3 385.3,2090.8 386.6,2092.3 387.9,2093.8 389.2,2095.3 390.5,2096.8 391.8,2098.4 393,2099.9 394.3,2101.4 395.6,2103 396.8,2104.5 398.1,2106.1 399.3,2107.6 400.5,2109.2 401.8,2110.8 403,2112.3 404.2,2113.9 405.4,2115.5 406.6,2117.1 407.8,2118.7 409,2120.3 410.2,2121.9 411.4,2123.5 412.6,2125.1 413.7,2126.7 414.9,2128.3 416.1,2130 417.2,2131.6 418.4,2133.2 419.5,2134.8 420.7,2136.5 421.8,2138.1 423,2139.7 424.1,2141.4 425.3,2143 426.4,2144.7 427.5,2146.3 428.7,2148 429.8,2149.6 430.9,2151.3 432,2152.9 433.2,2154.6 434.3,2156.3 435.4,2157.9 436.5,2159.6 437.6,2161.3 438.7,2162.9 439.8,2164.6 440.9,2166.3 442,2167.9 443.1,2169.6 444.2,2171.3 445.4,2172.9 446.5,2174.6 447.6,2176.3 448.7,2178 449.8,2179.6 450.9,2181.3 452,2183 453.1,2184.6 454.2,2186.3 455.3,2188 456.4,2189.7 457.5,2191.3 458.6,2193 459.7,2194.7 460.8,2196.3 461.9,2198 463,2199.6 464.2,2201.3 465.3,2203 466.4,2204.6 467.5,2206.3 468.6,2207.9 469.8,2209.6 470.9,2211.2 472,2212.9 473.2,2214.5 474.3,2216.2 475.4,2217.8 476.6,2219.4 477.7,2221.1 478.9,2222.7 480,2224.3 481.2,2226 482.3,2227.6 483.5,2229.2 484.7,2230.8 485.8,2232.4 487,2234 488.2,2235.7 489.3,2237.3 490.5,2238.9 491.7,2240.5 492.9,2242.1 494.1,2243.7 495.3,2245.3 496.4,2246.9 497.6,2248.5 498.8,2250.1 500,2251.7 501.2,2253.3 502.4,2254.9 503.6,2256.4 504.8,2258 506,2259.6 507.2,2261.2 508.4,2262.8 509.6,2264.4 510.8,2266 512.1,2267.5 513.3,2269.1 514.5,2270.7 515.7,2272.3 516.9,2273.9 518.1,2275.4 519.3,2277 520.6,2278.6 521.8,2280.2 523,2281.8 524.2,2283.3 525.4,2284.9 526.6,2286.5 527.9,2288.1 529.1,2289.6 530.3,2291.2 531.5,2292.8 532.7,2294.4 534,2296 535.2,2297.5 536.4,2299.1 537.6,2300.7 538.8,2302.3 540.1,2303.9 541.3,2305.5 542.5,2307 543.7,2308.6 544.9,2310.2 546.1,2311.8 547.4,2313.4 548.6,2315 549.8,2316.6 551,2318.2 552.2,2319.7 553.4,2321.3 554.7,2322.9 555.9,2324.5 557.1,2326.1 558.3,2327.7 559.5,2329.3 560.8,2330.9 562,2332.5 563.2,2334 564.4,2335.6 565.6,2337.2 566.9,2338.8 568.1,2340.4 569.3,2342 570.5,2343.6 571.8,2345.1 573,2346.7 574.2,2348.3 575.4,2349.9 576.7,2351.5 577.9,2353.1 579.1,2354.6 580.4,2356.2 581.6,2357.8 582.8,2359.4 584.1,2361 585.3,2362.5 586.5,2364.1 587.8,2365.7 589,2367.2 590.3,2368.8 591.5,2370.4 592.8,2371.9 594,2373.5 595.3,2375.1 596.5,2376.6 597.8,2378.2 599,2379.8 600.3,2381.3 601.5,2382.9 602.8,2384.4 604.1,2386 605.3,2387.5 606.6,2389.1 607.9,2390.6 609.1,2392.2 610.4,2393.7 611.7,2395.2 613,2396.8 614.3,2398.3 615.5,2399.8 616.8,2401.4 618.1,2402.9 619.4,2404.4 620.7,2406 622,2407.5 623.3,2409 624.6,2410.5 625.9,2412 627.2,2413.5 628.5,2415 629.8,2416.5 631.2,2418 632.5,2419.5 633.8,2421 635.1,2422.5 636.5,2424 637.8,2425.5 639.1,2427 640.5,2428.4 641.8,2429.9 643.1,2431.4 644.5,2432.8 645.9,2434.3 647.2,2435.8 648.6,2437.2 649.9,2438.7 651.3,2440.1 652.7,2441.6 654,2443 655.4,2444.4 656.8,2445.9 658.2,2447.3 659.6,2448.7 661,2450.1 662.4,2451.6 663.8,2453 665.2,2454.4 666.6,2455.8 668,2457.2 669.4,2458.6 670.8,2460 672.3,2461.4 673.7,2462.7 675.1,2464.1 676.6,2465.5 678,2466.9 679.5,2468.2 680.9,2469.6 682.4,2470.9 683.9,2472.3 685.3,2473.6 686.8,2475 688.3,2476.3 689.8,2477.6 691.2,2478.9 692.7,2480.3 694.2,2481.6 695.7,2482.9 697.2,2484.2 698.7,2485.5 700.2,2486.8 701.7,2488.1 703.3,2489.4 704.8,2490.7 706.3,2492 707.8,2493.3 709.3,2494.6 710.9,2495.8 712.4,2497.1 714,2498.4 715.5,2499.7 717,2500.9 718.6,2502.2 720.1,2503.4 721.7,2504.7 723.2,2506 724.8,2507.2 726.4,2508.5 727.9,2509.7 729.5,2511 731.1,2512.2 732.6,2513.4 734.2,2514.7 735.8,2515.9 737.4,2517.1 739,2518.3 740.6,2519.5 742.2,2520.7 743.8,2521.9 745.4,2523.1 747,2524.3 748.6,2525.5 750.2,2526.7 751.8,2527.9 753.5,2529 755.1,2530.2 756.7,2531.3 758.4,2532.5 760,2533.6 761.7,2534.8 763.3,2535.9 765,2537 766.7,2538.1 768.3,2539.2 770,2540.3 771.7,2541.4 773.4,2542.4 775.1,2543.5 776.8,2544.5 778.5,2545.6 780.2,2546.6 781.9,2547.6 783.7,2548.6 785.4,2549.7 787.1,2550.7 788.9,2551.6 790.6,2552.6 792.3,2553.6 794.1,2554.6 795.9,2555.5 797.6,2556.5 799.4,2557.4 801.2,2558.3 802.9,2559.2 804.7,2560.2 806.5,2561.1 808.3,2562 810.1,2562.8 811.9,2563.7 813.7,2564.6 815.5,2565.5 817.3,2566.3 819.1,2567.2 820.9,2568 822.7,2568.8 824.5,2569.6 826.4,2570.5 828.2,2571.3 830,2572.1 831.9,2572.8 833.7,2573.6 835.5,2574.4 837.4,2575.2 839.2,2575.9 841.1,2576.7 842.9,2577.4 844.8,2578.1 846.6,2578.9 848.5,2579.6 850.3,2580.3 852.2,2581 854.1,2581.7 855.9,2582.4 857.8,2583 859.7,2583.7 861.5,2584.4 863.4,2585 865.3,2585.7 867.2,2586.3 869.1,2587 870.9,2587.6 872.8,2588.2 874.7,2588.8 876.6,2589.4 878.5,2590 880.4,2590.6 882.3,2591.2 884.2,2591.8 886.1,2592.4 888,2592.9 889.9,2593.5 891.8,2594.1 893.7,2594.6 895.6,2595.1 897.5,2595.7 899.4,2596.2 901.4,2596.7 903.3,2597.3 905.2,2597.8 907.1,2598.3 909,2598.8 911,2599.3 912.9,2599.8 914.8,2600.3 916.7,2600.8 918.7,2601.3 920.6,2601.7 922.5,2602.2 924.5,2602.7 926.4,2603.1 928.3,2603.6 930.3,2604.1 932.2,2604.5 934.2,2604.9 936.1,2605.4 938,2605.8 940,2606.3 941.9,2606.7 943.9,2607.1 945.8,2607.5 947.8,2608 949.7,2608.4 951.7,2608.8 953.6,2609.2 955.6,2609.6 957.5,2610 959.5,2610.4 961.4,2610.8 963.4,2611.2 965.4,2611.6 967.3,2612 969.3,2612.3 971.2,2612.7 973.2,2613.1 975.2,2613.5 977.1,2613.8 979.1,2614.2 981.1,2614.6 983,2614.9 985,2615.3 987,2615.7 988.9,2616 990.9,2616.4 992.9,2616.8 994.8,2617.1 996.8,2617.5 998.8,2617.8 1000.7,2618.2 1002.7,2618.5 1004.7,2618.9 1006.7,2619.2 1008.6,2619.5 1010.6,2619.9 1012.6,2620.2 1014.6,2620.6 1016.5,2620.9 1018.5,2621.3 1020.5,2621.6 1022.4,2621.9 1024.4,2622.3 1026.4,2622.6 1028.4,2623 1030.3,2623.3 1032.3,2623.6 1034.3,2624 1036.3,2624.3 1038.3,2624.7 1040.2,2625 1042.2,2625.3 1044.2,2625.7 1046.2,2626 1048.1,2626.3 1050.1,2626.7 1052.1,2627 1054.1,2627.4 1056,2627.7 1058,2628.1 1060,2628.4 1062,2628.8 1063.9,2629.1 1065.9,2629.4 1067.9,2629.8 1069.8,2630.1 1071.8,2630.5 1073.8,2630.9 1075.8,2631.2 1077.7,2631.6 1079.7,2631.9 1081.7,2632.3 1083.7,2632.6 1085.6,2633 1087.6,2633.4 1089.6,2633.7 1091.5,2634.1 1093.5,2634.5 1095.5,2634.8 1097.4,2635.2 1099.4,2635.6 1101.4,2635.9 1103.3,2636.3 1105.3,2636.7 1107.3,2637.1 1109.2,2637.4 1111.2,2637.8 1113.2,2638.2 1115.1,2638.6 1117.1,2638.9 1119.1,2639.3 1121,2639.7 1123,2640.1 1125,2640.5 1126.9,2640.9 1128.9,2641.2 1130.9,2641.6 1132.8,2642 1134.8,2642.4 1136.8,2642.8 1138.7,2643.2 1140.7,2643.6 1142.6,2643.9 1144.6,2644.3 1146.6,2644.7 1148.5,2645.1 1150.5,2645.5 1152.5,2645.9 1154.4,2646.3 1156.4,2646.7 1158.3,2647.1 1160.3,2647.5 1162.3,2647.9 1164.2,2648.3 1166.2,2648.6 1168.2,2649 1170.1,2649.4 1172.1,2649.8 1174,2650.2 1176,2650.6 1178,2651 1179.9,2651.4 1181.9,2651.8 1183.8,2652.2 1185.8,2652.6 1187.8,2653 1189.7,2653.4 1191.7,2653.8 1193.6,2654.2 1195.6,2654.6 1197.6,2655 1199.5,2655.4 1201.5,2655.8 1203.4,2656.2 1205.4,2656.6 1207.3,2657 1209.3,2657.4 1211.3,2657.7 1213.2,2658.1 1215.2,2658.5 1217.1,2658.9 1219.1,2659.3 1221.1,2659.7 1223,2660.1 1225,2660.5 1226.9,2660.9 1228.9,2661.3 1230.9,2661.7 1232.8,2662.1 1234.8,2662.5 1236.7,2662.9 1238.7,2663.3 1240.6,2663.6 1242.6,2664 1244.6,2664.4 1246.5,2664.8 1248.5,2665.2 1250.4,2665.6 1252.4,2666 1254.4,2666.4 1256.3,2666.7 1258.3,2667.1 1260.2,2667.5 1262.2,2667.9 1264.2,2668.3 1266.1,2668.7 1268.1,2669 1270,2669.4 1272,2669.8 1274,2670.2 1275.9,2670.6 1277.9,2670.9 1279.8,2671.3 1281.8,2671.7 1283.8,2672.1 1285.7,2672.4 1287.7,2672.8 1289.6,2673.2 1291.6,2673.5 1293.6,2673.9 1295.5,2674.3 1297.5,2674.6 1299.4,2675 1301.4,2675.4 1303.4,2675.7 1305.3,2676.1 1307.3,2676.4 1309.3,2676.8 1311.2,2677.2 1313.2,2677.5 1315.1,2677.9 1317.1,2678.2 1319.1,2678.6 1321,2678.9 1323,2679.3 1325,2679.6 1326.9,2680 1328.9,2680.3 1330.8,2680.6 1332.8,2681 1334.8,2681.3 1336.7,2681.7 1338.7,2682 1340.7,2682.3 1342.6,2682.7 1344.6,2683 1346.6,2683.3 1348.5,2683.7 1350.5,2684 1352.5,2684.3 1354.4,2684.6 1356.4,2684.9 1358.4,2685.3 1360.3,2685.6 1362.3,2685.9 1364.3,2686.2 1366.2,2686.5 1368.2,2686.8 1370.2,2687.1 1372.2,2687.4 1374.1,2687.7 1376.1,2688 1378.1,2688.3 1380,2688.6 1382,2688.9 1384,2689.2 1385.9,2689.5 1387.9,2689.8 1389.9,2690.1 1391.9,2690.4 1393.8,2690.6 1395.8,2690.9 1397.8,2691.2 1399.8,2691.5 1401.7,2691.7 1403.7,2692 1405.7,2692.3 1407.7,2692.6 1409.6,2692.8 1411.6,2693.1 1413.6,2693.3 1415.6,2693.6 1417.5,2693.8 1419.5,2694.1 1421.5,2694.3 1423.5,2694.6 1425.5,2694.8 1427.4,2695.1 1429.4,2695.3 1431.4,2695.6 1433.4,2695.8 1435.4,2696 1437.3,2696.3 1439.3,2696.5 1441.3,2696.7 1443.3,2696.9 1445.3,2697.2 1447.2,2697.4 1449.2,2697.6 1451.2,2697.8 1453.2,2698 1455.2,2698.3 1457.2,2698.5 1459.1,2698.7 1461.1,2698.9 1463.1,2699.1 1465.1,2699.3 1467.1,2699.5 1469.1,2699.7 1471.1,2699.9 1473,2700.1 1475,2700.3 1477,2700.5 1479,2700.7 1481,2700.9 1483,2701 1485,2701.2 1487,2701.4 1488.9,2701.6 1490.9,2701.8 1492.9,2702 1494.9,2702.1 1496.9,2702.3 1498.9,2702.5 1500.9,2702.7 1502.9,2702.8 1504.9,2703 1506.8,2703.2 1508.8,2703.3 1510.8,2703.5 1512.8,2703.7 1514.8,2703.8 1516.8,2704 1518.8,2704.2 1520.8,2704.3 1522.8,2704.5 1524.8,2704.6 1526.8,2704.8 1528.8,2704.9 1530.7,2705.1 1532.7,2705.2 1534.7,2705.4 1536.7,2705.5 1538.7,2705.7 1540.7,2705.8 1542.7,2706 1544.7,2706.1 1546.7,2706.2 1548.7,2706.4 1550.7,2706.5 1552.7,2706.6 1554.7,2706.8 1556.7,2706.9 1558.7,2707 1560.7,2707.2 1562.7,2707.3 1564.7,2707.4 1566.7,2707.6 1568.6,2707.7 1570.6,2707.8 1572.6,2707.9 1574.6,2708.1 1576.6,2708.2 1578.6,2708.3 1580.6,2708.4 1582.6,2708.5 1584.6,2708.7 1586.6,2708.8 1588.6,2708.9 1590.6,2709 1592.6,2709.1 1594.6,2709.2 1596.6,2709.4 1598.6,2709.5 1600.6,2709.6 1602.6,2709.7 1604.6,2709.8 1606.6,2709.9 1608.6,2710 1610.6,2710.1 1612.6,2710.2 1614.6,2710.3 1616.6,2710.4 1618.6,2710.5 1620.6,2710.6 1622.6,2710.7 1624.6,2710.8 1626.6,2710.9 1628.6,2711 1630.6,2711.1 1632.6,2711.2 1634.6,2711.3 1636.6,2711.4 1638.6,2711.5 1640.6,2711.6 1642.6,2711.7 1644.6,2711.8 1646.6,2711.9 1648.6,2712 1650.6,2712.1 1652.6,2712.2 1654.6,2712.3 1656.6,2712.4 1658.6,2712.5 1660.6,2712.6 1662.6,2712.7 1664.6,2712.8 1666.6,2712.8 1668.6,2712.9 1670.6,2713 1672.6,2713.1 1674.6,2713.2 1676.6,2713.3 1678.6,2713.4 1680.6,2713.5 1682.6,2713.6 1684.6,2713.6 1686.6,2713.7 1688.6,2713.8 1690.6,2713.9 1692.6,2714 1694.6,2714.1 1696.6,2714.2 1698.6,2714.2 1700.6,2714.3 1702.6,2714.4 1704.6,2714.5 1706.6,2714.6 1708.6,2714.7 1710.6,2714.8 1712.6,2714.8 1714.6,2714.9 1716.6,2715 1718.6,2715.1 1720.6,2715.2 1722.6,2715.3 1724.6,2715.3 1726.6,2715.4 1728.6,2715.5 1730.6,2715.6 1732.6,2715.7 1734.6,2715.8 1736.6,2715.9 1738.6,2715.9 1740.6,2716 1742.6,2716.1 1744.6,2716.2 1746.6,2716.3 1748.6,2716.4 1750.6,2716.5 1752.6,2716.5 1754.6,2716.6 1756.6,2716.7 1758.6,2716.8 1760.6,2716.9 1762.6,2717 1764.6,2717.1 1766.6,2717.2 1768.6,2717.3 1770.6,2717.3 1772.6,2717.4 1774.6,2717.5 1776.6,2717.6 1778.6,2717.7 1780.6,2717.8 1782.6,2717.9 1784.6,2718 1786.6,2718.1 1788.6,2718.2 1790.6,2718.3 1792.6,2718.4 1794.6,2718.5 1796.6,2718.6 1798.6,2718.6 1800.6,2718.7 1802.6,2718.8 1804.6,2718.9 1806.6,2719 1808.6,2719.1 1810.6,2719.2 1812.6,2719.3 1814.6,2719.4 1816.6,2719.5 1818.6,2719.6 1820.6,2719.8 1822.6,2719.9 1824.6,2720 1826.6,2720.1 1828.6,2720.2 1830.6,2720.3 1832.6,2720.4 1834.6,2720.5 1836.6,2720.6 1838.6,2720.7 1840.5,2720.8 1842.5,2720.9 1844.5,2721.1 1846.5,2721.2 1848.5,2721.3 1850.5,2721.4 1852.5,2721.5 1854.5,2721.6 1856.5,2721.8 1858.5,2721.9 1860.5,2722 1862.5,2722.1 1864.5,2722.2 1866.5,2722.4 1868.5,2722.5 1870.4,2722.6 1872.4,2722.8 1874.4,2722.9 1876.4,2723 1878.4,2723.1 1880.4,2723.3 1882.4,2723.4 1884.4,2723.5 1886.4,2723.7 1888.4,2723.8 1890.3,2724 1892.3,2724.1 1894.3,2724.2 1896.3,2724.4 1898.3,2724.5 1900.3,2724.7 1902.3,2724.8 1904.3,2725 1906.3,2725.1 1908.2,2725.3 1910.2,2725.4 1912.2,2725.6 1914.2,2725.7 1916.2,2725.9 1918.2,2726 1920.2,2726.2 1922.1,2726.4 1924.1,2726.5 1926.1,2726.7 1928.1,2726.8 1930.1,2727 1932.1,2727.2 1934.1,2727.4 1936,2727.5 1938,2727.7 1940,2727.9 1942,2728.1"/>
<path d="M235.5,2389 236.3,2387.3 237,2385.6 237.8,2383.9 238.5,2382.1 239.3,2380.4 240.1,2378.6 241,2376.9 241.8,2375.1 242.7,2373.3 243.6,2371.6 244.5,2369.8 245.5,2368 246.4,2366.2 247.4,2364.5 248.5,2362.7 249.5,2361 250.6,2359.2 251.7,2357.5 252.8,2355.8 254,2354.1 255.2,2352.4 256.4,2350.7 257.7,2349 259,2347.4 260.3,2345.8 261.7,2344.2 263.1,2342.6 264.5,2341.1 266,2339.6 267.5,2338.1 269,2336.7 270.6,2335.2 272.2,2333.9 273.8,2332.5 275.5,2331.2 277.2,2329.9 278.9,2328.7 280.6,2327.5 282.3,2326.4 284.1,2325.3 285.9,2324.3 287.6,2323.3 289.5,2322.3 291.3,2321.4 293.1,2320.6 294.9,2319.8 296.8,2319.1 298.6,2318.4 300.5,2317.8 302.3,2317.2 304.2,2316.7 306.1,2316.3 307.9,2316 309.8,2315.7 311.6,2315.5 313.5,2315.3 315.3,2315.2 317.2,2315.2 319,2315.3 320.8,2315.4 322.6,2315.7 324.4,2316 326.1,2316.4 327.9,2316.8 329.6,2317.4 331.3,2318 333,2318.7 334.7,2319.5 336.3,2320.3 337.9,2321.3 339.5,2322.3 341.1,2323.3 342.6,2324.4 344.1,2325.6 345.6,2326.9 347,2328.2 348.4,2329.5 349.8,2330.9 351.1,2332.4 352.5,2333.9 353.8,2335.4 355.1,2337 356.3,2338.6 357.6,2340.2 358.8,2341.9 360,2343.6 361.2,2345.3 362.4,2347 363.5,2348.8 364.7,2350.5 365.8,2352.3 366.9,2354 368.1,2355.8 369.2,2357.5 370.3,2359.3 371.3,2361 372.4,2362.8 373.5,2364.5 374.6,2366.3 375.6,2368 376.7,2369.8 377.7,2371.5 378.7,2373.2 379.7,2375 380.8,2376.7 381.8,2378.5 382.8,2380.2 383.8,2381.9 384.8,2383.7 385.8,2385.4 386.7,2387.2 387.7,2388.9 388.7,2390.6 389.7,2392.4 390.6,2394.1 391.6,2395.9 392.5,2397.6 393.5,2399.3 394.4,2401.1 395.4,2402.8 396.3,2404.6 397.3,2406.3 398.2,2408.1 399.1,2409.8 400.1,2411.6 401,2413.3 401.9,2415.1 402.9,2416.8 403.8,2418.6 404.7,2420.4 405.6,2422.1 406.6,2423.9 407.5,2425.7 408.4,2427.4 409.3,2429.2 410.2,2431 411.2,2432.7 412.1,2434.5 413,2436.3 413.9,2438 414.9,2439.8 415.8,2441.6 416.7,2443.4 417.7,2445.1 418.6,2446.9 419.5,2448.7 420.4,2450.4 421.4,2452.2 422.3,2454 423.3,2455.8 424.2,2457.5 425.2,2459.3 426.1,2461.1 427,2462.8 428,2464.6 429,2466.3 429.9,2468.1 430.9,2469.9 431.9,2471.6 432.8,2473.4 433.8,2475.1 434.8,2476.9 435.8,2478.6 436.8,2480.3 437.8,2482.1 438.8,2483.8 439.8,2485.5 440.8,2487.3 441.8,2489 442.8,2490.7 443.8,2492.4 444.9,2494.2 445.9,2495.9 447,2497.6 448,2499.3 449.1,2501 450.1,2502.7 451.2,2504.3 452.3,2506 453.4,2507.7 454.5,2509.4 455.6,2511 456.7,2512.7 457.8,2514.4 458.9,2516 460.1,2517.7 461.2,2519.3 462.3,2520.9 463.5,2522.6 464.7,2524.2 465.8,2525.8 467,2527.4 468.2,2529 469.4,2530.6 470.7,2532.2 471.9,2533.8 473.1,2535.3 474.4,2536.9 475.6,2538.4 476.9,2540 478.2,2541.5 479.5,2543.1 480.8,2544.6 482.1,2546.1 483.4,2547.6 484.7,2549.1 486.1,2550.6 487.4,2552 488.8,2553.5 490.2,2554.9 491.6,2556.4 493,2557.8 494.4,2559.2 495.8,2560.6 497.3,2562 498.7,2563.3 500.2,2564.7 501.7,2566 503.2,2567.3 504.7,2568.6 506.2,2569.8 507.7,2571.1 509.3,2572.3 510.9,2573.5 512.4,2574.7 514,2575.9 515.6,2577 517.3,2578.2 518.9,2579.3 520.6,2580.4 522.2,2581.4 523.9,2582.5 525.6,2583.5 527.3,2584.4 529.1,2585.4 530.8,2586.3 532.6,2587.2 534.3,2588.1 536.1,2589 537.9,2589.8 539.8,2590.6 541.6,2591.4 543.4,2592.1 545.3,2592.9 547.2,2593.6 549.1,2594.3 551,2595 552.9,2595.6 554.8,2596.2 556.7,2596.9 558.6,2597.5 560.6,2598 562.5,2598.6 564.4,2599.1 566.4,2599.7 568.4,2600.2 570.3,2600.7 572.3,2601.2 574.3,2601.6 576.2,2602.1 578.2,2602.5 580.2,2603 582.2,2603.4 584.1,2603.8 586.1,2604.2 588.1,2604.6 590.1,2605 592.1,2605.4 594,2605.7 596,2606.1 598,2606.4 600,2606.8 601.9,2607.1 603.9,2607.4 605.9,2607.8 607.9,2608.1 609.8,2608.4 611.8,2608.7 613.8,2609 615.8,2609.3 617.7,2609.6 619.7,2609.8 621.7,2610.1 623.7,2610.4 625.6,2610.6 627.6,2610.9 629.6,2611.2 631.6,2611.4 633.6,2611.6 635.5,2611.9 637.5,2612.1 639.5,2612.4 641.5,2612.6 643.4,2612.8 645.4,2613.1 647.4,2613.3 649.4,2613.5 651.3,2613.7 653.3,2614 655.3,2614.2 657.3,2614.4 659.3,2614.6 661.2,2614.9 663.2,2615.1 665.2,2615.3 667.2,2615.5 669.2,2615.8 671.1,2616 673.1,2616.2 675.1,2616.4 677.1,2616.7 679.1,2616.9 681.1,2617.1 683,2617.3 685,2617.6 687,2617.8 689,2618 691,2618.3 693,2618.5 694.9,2618.7 696.9,2619 698.9,2619.2 700.9,2619.4 702.9,2619.7 704.9,2619.9 706.9,2620.1 708.8,2620.3 710.8,2620.6 712.8,2620.8 714.8,2621 716.8,2621.3 718.8,2621.5 720.8,2621.7 722.8,2621.9 724.8,2622.2 726.7,2622.4 728.7,2622.6 730.7,2622.8 732.7,2623.1 734.7,2623.3 736.7,2623.5 738.7,2623.7 740.7,2623.9 742.7,2624.1 744.7,2624.3 746.7,2624.6 748.6,2624.8 750.6,2625 752.6,2625.2 754.6,2625.4 756.6,2625.6 758.6,2625.8 760.6,2626 762.6,2626.2 764.6,2626.4 766.6,2626.5 768.6,2626.7 770.6,2626.9 772.6,2627.1 774.6,2627.3 776.6,2627.4 778.5,2627.6 780.5,2627.8 782.5,2628 784.5,2628.1 786.5,2628.3 788.5,2628.4 790.5,2628.6 792.5,2628.7 794.5,2628.9 796.5,2629 798.5,2629.2 800.5,2629.3 802.5,2629.4 804.5,2629.6 806.5,2629.7 808.5,2629.8 810.5,2629.9 812.5,2630.1 814.5,2630.2 816.5,2630.3 818.4,2630.4 820.4,2630.5 822.4,2630.6 824.4,2630.7 826.4,2630.8 828.4,2630.9 830.4,2631 832.4,2631 834.4,2631.1 836.4,2631.2 838.4,2631.3 840.4,2631.4 842.4,2631.4 844.4,2631.5 846.4,2631.6 848.4,2631.6 850.4,2631.7 852.4,2631.8 854.4,2631.8 856.4,2631.9 858.4,2631.9 860.4,2632 862.4,2632 864.4,2632.1 866.4,2632.1 868.4,2632.1 870.4,2632.2 872.4,2632.2 874.4,2632.2 876.4,2632.3 878.4,2632.3 880.4,2632.3 882.4,2632.3 884.4,2632.4 886.3,2632.4 888.3,2632.4 890.3,2632.4 892.3,2632.4 894.3,2632.4 896.3,2632.5 898.3,2632.5 900.3,2632.5 902.3,2632.5 904.3,2632.5 906.3,2632.5 908.3,2632.5 910.3,2632.5 912.3,2632.5 914.3,2632.5 916.3,2632.5 918.3,2632.5 920.3,2632.4 922.3,2632.4 924.3,2632.4 926.3,2632.4 928.3,2632.4 930.3,2632.4 932.3,2632.4 934.3,2632.3 936.3,2632.3 938.3,2632.3 940.3,2632.3 942.3,2632.3 944.3,2632.2 946.3,2632.2 948.3,2632.2 950.3,2632.1 952.3,2632.1 954.3,2632.1 956.3,2632.1 958.3,2632 960.3,2632 962.3,2632 964.3,2631.9 966.3,2631.9 968.3,2631.9 970.3,2631.8 972.3,2631.8 974.3,2631.8 976.3,2631.7 978.3,2631.7 980.3,2631.6 982.3,2631.6 984.3,2631.6 986.3,2631.5 988.3,2631.5 990.3,2631.4 992.3,2631.4 994.3,2631.4 996.3,2631.3 998.3,2631.3 1000.3,2631.2 1002.3,2631.2 1004.3,2631.2 1006.3,2631.1 1008.3,2631.1 1010.3,2631 1012.3,2631 1014.3,2630.9 1016.3,2630.9 1018.3,2630.9 1020.3,2630.8 1022.3,2630.8 1024.3,2630.7 1026.3,2630.7 1028.3,2630.7 1030.3,2630.6 1032.3,2630.6 1034.3,2630.5 1036.3,2630.5 1038.3,2630.5 1040.3,2630.4 1042.3,2630.4 1044.3,2630.4 1046.3,2630.3 1048.3,2630.3 1050.3,2630.2 1052.3,2630.2 1054.3,2630.2 1056.3,2630.1 1058.3,2630.1 1060.3,2630.1 1062.3,2630 1064.3,2630 1066.3,2630 1068.3,2629.9 1070.3,2629.9 1072.3,2629.9 1074.3,2629.8 1076.3,2629.8 1078.2,2629.8 1080.2,2629.8 1082.2,2629.7 1084.2,2629.7 1086.2,2629.7 1088.2,2629.6 1090.2,2629.6 1092.2,2629.6 1094.2,2629.6 1096.2,2629.5 1098.2,2629.5 1100.2,2629.5 1102.2,2629.5 1104.2,2629.4 1106.2,2629.4 1108.2,2629.4 1110.2,2629.4 1112.2,2629.3 1114.2,2629.3 1116.2,2629.3 1118.2,2629.3 1120.2,2629.3 1122.2,2629.2 1124.2,2629.2 1126.2,2629.2 1128.2,2629.2 1130.2,2629.1 1132.2,2629.1 1134.2,2629.1 1136.2,2629.1 1138.2,2629.1 1140.2,2629.1 1142.2,2629 1144.2,2629 1146.2,2629 1148.2,2629 1150.2,2629 1152.2,2629 1154.2,2628.9 1156.2,2628.9 1158.2,2628.9 1160.2,2628.9 1162.2,2628.9 1164.2,2628.9 1166.2,2628.8 1168.2,2628.8 1170.2,2628.8 1172.2,2628.8 1174.2,2628.8 1176.2,2628.8 1178.2,2628.8 1180.2,2628.8 1182.2,2628.7 1184.2,2628.7 1186.2,2628.7 1188.2,2628.7 1190.2,2628.7 1192.2,2628.7 1194.2,2628.7 1196.2,2628.7 1198.2,2628.7 1200.2,2628.7 1202.2,2628.7 1204.2,2628.6 1206.2,2628.6 1208.2,2628.6 1210.2,2628.6 1212.2,2628.6 1214.2,2628.6 1216.2,2628.6 1218.2,2628.6 1220.2,2628.6 1222.2,2628.6 1224.2,2628.6 1226.2,2628.6 1228.2,2628.6 1230.2,2628.6 1232.2,2628.6 1234.2,2628.6 1236.2,2628.6 1238.2,2628.5 1240.2,2628.5 1242.2,2628.5 1244.2,2628.5 1246.2,2628.5 1248.2,2628.5 1250.2,2628.5 1252.1,2628.5 1254.1,2628.5 1256.1,2628.5 1258.1,2628.5 1260.1,2628.5 1262.1,2628.5 1264.1,2628.5 1266.1,2628.5 1268.1,2628.5 1270.1,2628.5 1272.1,2628.5 1274.1,2628.5 1276.1,2628.5 1278.1,2628.5 1280.1,2628.5 1282.1,2628.5 1284.1,2628.5 1286.1,2628.5 1288.1,2628.5 1290.1,2628.5 1292.1,2628.5 1294.1,2628.6 1296.1,2628.6 1298.1,2628.6 1300.1,2628.6 1302.1,2628.6 1304.1,2628.6 1306.1,2628.6 1308.1,2628.6 1310.1,2628.6 1312.1,2628.6 1314.1,2628.6 1316.1,2628.6 1318.1,2628.6 1320.1,2628.6 1322.1,2628.6 1324.1,2628.6 1326.1,2628.6 1328.1,2628.6 1330.1,2628.6 1332.1,2628.7 1334.1,2628.7 1336.1,2628.7 1338.1,2628.7 1340.1,2628.7 1342.1,2628.7 1344.1,2628.7 1346.1,2628.7 1348.1,2628.7 1350.1,2628.7 1352.1,2628.7 1354.1,2628.7 1356.1,2628.7 1358.1,2628.8 1360.1,2628.8 1362.1,2628.8 1364.1,2628.8 1366.1,2628.8 1368.1,2628.8 1370.1,2628.8 1372.1,2628.8 1374.1,2628.8 1376.1,2628.8 1378.1,2628.9 1380.1,2628.9 1382.1,2628.9 1384.1,2628.9 1386.1,2628.9 1388.1,2628.9 1390.1,2628.9 1392.1,2628.9 1394.1,2628.9 1396.1,2629 1398.1,2629 1400.1,2629 1402.1,2629 1404.1,2629 1406.1,2629 1408.1,2629 1410.1,2629 1412.1,2629.1 1414.1,2629.1 1416.1,2629.1 1418.1,2629.1 1420.1,2629.1 1422.1,2629.1 1424.1,2629.1 1426.1,2629.2 1428.1,2629.2 1430.1,2629.2 1432.1,2629.2 1434.1,2629.2 1436.1,2629.2 1438.1,2629.2 1440.1,2629.3 1442.1,2629.3 1444.1,2629.3 1446.1,2629.3 1448.1,2629.3 1450.1,2629.4 1452.1,2629.4 1454.1,2629.4 1456.1,2629.4 1458.1,2629.4 1460.1,2629.5 1462.1,2629.5 1464.1,2629.5 1466.1,2629.5 1468.1,2629.6 1470.1,2629.6 1472.1,2629.6 1474.1,2629.7 1476.1,2629.7 1478.1,2629.7 1480.1,2629.8 1482.1,2629.8 1484.1,2629.8 1486.1,2629.9 1488.1,2629.9 1490.1,2629.9 1492.1,2630 1494.1,2630 1496.1,2630 1498.1,2630.1 1500.1,2630.1 1502.1,2630.2 1504.1,2630.2 1506.1,2630.3 1508.1,2630.3 1510.1,2630.4 1512.1,2630.4 1514.1,2630.5 1516.1,2630.5 1518.1,2630.6 1520.1,2630.6 1522.1,2630.7 1524.1,2630.7 1526.1,2630.8 1528.1,2630.9 1530.1,2630.9 1532.1,2631 1534.1,2631.1 1536.1,2631.1 1538.1,2631.2 1540.1,2631.3 1542.1,2631.3 1544.1,2631.4 1546.1,2631.5 1548.1,2631.6 1550.1,2631.7 1552.1,2631.7 1554.1,2631.8 1556.1,2631.9 1558.1,2632 1560.1,2632.1 1562.1,2632.2 1564.1,2632.3 1566.1,2632.4 1568.1,2632.5 1570.1,2632.6 1572.1,2632.7 1574.1,2632.8 1576.1,2632.9 1578,2633 1580,2633.1 1582,2633.2 1584,2633.3 1586,2633.4 1588,2633.5 1590,2633.7 1592,2633.8 1594,2633.9 1596,2634 1598,2634.2 1600,2634.3 1602,2634.4 1604,2634.6 1606,2634.7 1608,2634.9 1610,2635 1611.9,2635.1 1613.9,2635.3 1615.9,2635.4 1617.9,2635.6 1619.9,2635.8 1621.9,2635.9 1623.9,2636.1 1625.9,2636.2 1627.9,2636.4 1629.9,2636.6 1631.9,2636.8 1633.9,2636.9 1635.8,2637.1 1637.8,2637.3 1639.8,2637.5 1641.8,2637.7 1643.8,2637.8 1645.8,2638 1647.8,2638.2 1649.8,2638.4 1651.8,2638.6 1653.8,2638.8 1655.7,2639 1657.7,2639.3 1659.7,2639.5 1661.7,2639.7 1663.7,2639.9 1665.7,2640.1 1667.7,2640.4 1669.7,2640.6 1671.6,2640.8 1673.6,2641.1 1675.6,2641.3 1677.6,2641.5 1679.6,2641.8 1681.6,2642 1683.6,2642.3 1685.5,2642.5 1687.5,2642.8 1689.5,2643.1 1691.5,2643.3 1693.5,2643.6 1695.5,2643.9 1697.4,2644.2 1699.4,2644.4 1701.4,2644.7 1703.4,2645 1705.4,2645.3 1707.3,2645.6 1709.3,2645.9 1711.3,2646.2 1713.3,2646.5 1715.3,2646.8 1717.2,2647.1 1719.2,2647.5 1721.2,2647.8 1723.1,2648.1 1725.1,2648.5 1727.1,2648.8 1729.1,2649.1 1731,2649.5 1733,2649.8 1735,2650.2 1736.9,2650.6 1738.9,2650.9 1740.9,2651.3 1742.8,2651.7 1744.8,2652.1 1746.8,2652.4 1748.7,2652.8 1750.7,2653.2 1752.6,2653.6 1754.6,2654 1756.6,2654.4 1758.5,2654.9 1760.5,2655.3 1762.4,2655.7 1764.4,2656.1 1766.3,2656.6 1768.3,2657 1770.2,2657.5 1772.2,2657.9 1774.1,2658.4 1776,2658.8 1778,2659.3 1779.9,2659.8 1781.9,2660.3 1783.8,2660.7 1785.7,2661.2 1787.7,2661.7 1789.6,2662.2 1791.5,2662.7 1793.5,2663.3 1795.4,2663.8 1797.3,2664.3 1799.2,2664.8 1801.2,2665.4 1803.1,2665.9 1805,2666.5 1806.9,2667 1808.8,2667.6 1810.8,2668.2 1812.7,2668.7 1814.6,2669.3 1816.5,2669.9 1818.4,2670.5 1820.3,2671.1 1822.2,2671.7 1824.1,2672.3 1826,2673 1827.9,2673.6 1829.8,2674.2 1831.7,2674.9 1833.6,2675.5 1835.4,2676.2 1837.3,2676.8 1839.2,2677.5 1841.1,2678.2 1843,2678.9 1844.9,2679.5 1846.7,2680.2 1848.6,2680.9 1850.5,2681.7 1852.3,2682.4 1854.2,2683.1 1856.1,2683.8 1857.9,2684.6 1859.8,2685.3 1861.6,2686.1 1863.5,2686.8 1865.3,2687.6 1867.2,2688.3 1869,2689.1 1870.9,2689.9 1872.7,2690.7 1874.6,2691.5 1876.4,2692.2 1878.3,2693 1880.1,2693.8 1881.9,2694.6 1883.8,2695.4 1885.6,2696.3 1887.5,2697.1 1889.3,2697.9 1891.1,2698.7 1892.9,2699.5 1894.8,2700.3 1896.6,2701.2 1898.4,2702 1900.2,2702.8 1902.1,2703.7 1903.9,2704.5 1905.7,2705.3 1907.5,2706.2 1909.4,2707 1911.2,2707.8 1913,2708.7 1914.8,2709.5 1916.6,2710.3 1918.4,2711.2 1920.3,2712 1922.1,2712.9 1923.9,2713.7 1925.7,2714.5 1927.5,2715.4 1929.3,2716.2 1931.1,2717 1932.9,2717.9 1934.8,2718.7 1936.6,2719.5 1938.4,2720.3 1940.2,2721.2 1942,2722" stroke-dasharray="25 11 7 11"/>
</g>
<g fill="#000">
<rect x="233.2" y="1499.4" width="3" height="1235.7" fill="#000"/>
<rect x="236.2" y="1499.4" width="2.3" height="1235.7" fill="#aaa"/>
<rect x="1939.3" y="1499.4" width="2.5" height="1235.7" fill="#aaa"/>
<rect x="1941.8" y="1499.4" width="2.3" height="1235.7" fill="#000"/>
<rect x="233.3" y="1499.4" width="1711" height="1" fill="#666"/>
<rect x="233.3" y="1500.4" width="1711" height="4.4" fill="#0a0a0a"/>
<rect x="233.3" y="2729.9" width="1711" height="1.9" fill="#000"/>
<rect x="233.3" y="2731.8" width="1711" height="3" fill="#666"/>
<rect x="214" y="2730.3" width="19.5" height="4.4" fill="#1a1a1a"/>
<rect x="224.9" y="2572.6" width="8.6" height="4.4" fill="#1a1a1a"/>
<rect x="214" y="2414.8" width="19.5" height="4.4" fill="#1a1a1a"/>
<rect x="224.9" y="2257.1" width="8.6" height="4.4" fill="#1a1a1a"/>
<rect x="214" y="2099.3" width="19.5" height="4.4" fill="#1a1a1a"/>
<rect x="224.9" y="1941.5" width="8.6" height="4.4" fill="#1a1a1a"/>
<rect x="214" y="1783.8" width="19.5" height="4.4" fill="#1a1a1a"/>
<rect x="224.9" y="1626" width="8.6" height="4.4" fill="#1a1a1a"/>
<rect x="232.9" y="2732.5" width="3.4" height="21.6" fill="#0d0d0d"/>
<rect x="375.2" y="2732.5" width="3.4" height="10.8" fill="#0d0d0d"/>
<rect x="517.5" y="2732.5" width="3.4" height="21.6" fill="#0d0d0d"/>
<rect x="659.9" y="2732.5" width="3.4" height="10.8" fill="#0d0d0d"/>
<rect x="802.2" y="2732.5" width="3.4" height="21.6" fill="#0d0d0d"/>
<rect x="944.5" y="2732.5" width="3.4" height="10.8" fill="#0d0d0d"/>
<rect x="1086.8" y="2732.5" width="3.4" height="21.6" fill="#0d0d0d"/>
<rect x="1229.2" y="2732.5" width="3.4" height="10.8" fill="#0d0d0d"/>
<rect x="1371.5" y="2732.5" width="3.4" height="21.6" fill="#0d0d0d"/>
<rect x="1513.8" y="2732.5" width="3.4" height="10.8" fill="#0d0d0d"/>
<rect x="1656.1" y="2732.5" width="3.4" height="21.6" fill="#0d0d0d"/>
<rect x="1798.5" y="2732.5" width="3.4" height="10.8" fill="#0d0d0d"/>
<rect x="1940.8" y="2732.5" width="3.4" height="21.6" fill="#0d0d0d"/>
</g>
<text x="197" y="2749.5" font-size="57" text-anchor="end">0</text>
<text x="197" y="2434" font-size="57" text-anchor="end">1</text>
<text x="197" y="2118.5" font-size="57" text-anchor="end">2</text>
<text x="197" y="1803" font-size="57" text-anchor="end">3</text>
<text transform="translate(120.3,2500.6) rotate(-90)" font-size="68">Kubelka-Munk units / a.u.</text>
<line x1="1474.6" y1="1982.1" x2="1638.9" y2="1982.1" stroke="#0000ff" stroke-width="4"/>
<line x1="1474.6" y1="2071.7" x2="1624.5" y2="2071.7" stroke="#0000ff" stroke-width="4" stroke-dasharray="25 11 7 11"/>
<text x="1657.9" y="2007.2" font-size="73">CuMn</text>
<text x="1657.9" y="2096.3" font-size="73">Cu+Mn</text>
<text transform="translate(1754.1,1728.5) scale(1,1.03)" font-size="190">B</text>
<clipPath id="clipC"><rect x="234.6" y="2967" width="1707.9" height="1229"/></clipPath>
<g clip-path="url(#clipC)" fill="none" stroke="#008000" stroke-width="3.1" stroke-linejoin="round">
<path d="M235.5,3405 236,3403.1 236.4,3401.1 236.9,3399.2 237.3,3397.2 237.8,3395.3 238.2,3393.4 238.7,3391.4 239.1,3389.5 239.6,3387.5 240.1,3385.6 240.5,3383.6 241,3381.7 241.5,3379.8 241.9,3377.8 242.4,3375.9 242.9,3373.9 243.4,3372 243.9,3370 244.3,3368.1 244.8,3366.2 245.3,3364.2 245.8,3362.3 246.3,3360.3 246.8,3358.4 247.3,3356.5 247.8,3354.5 248.3,3352.6 248.8,3350.6 249.3,3348.7 249.9,3346.8 250.4,3344.8 250.9,3342.9 251.4,3341 252,3339 252.5,3337.1 253,3335.2 253.6,3333.2 254.1,3331.3 254.6,3329.4 255.2,3327.5 255.7,3325.5 256.3,3323.6 256.9,3321.7 257.4,3319.8 258,3317.9 258.6,3315.9 259.1,3314 259.7,3312.1 260.3,3310.2 260.9,3308.3 261.5,3306.4 262.1,3304.5 262.7,3302.6 263.3,3300.7 263.9,3298.8 264.5,3296.9 265.1,3295 265.8,3293.1 266.4,3291.2 267,3289.3 267.7,3287.4 268.3,3285.5 269,3283.6 269.6,3281.8 270.3,3279.9 271,3278 271.6,3276.1 272.3,3274.3 273,3272.4 273.7,3270.5 274.4,3268.7 275.2,3266.8 275.9,3265 276.6,3263.1 277.4,3261.3 278.1,3259.4 278.9,3257.6 279.7,3255.8 280.5,3253.9 281.3,3252.1 282.1,3250.3 282.9,3248.5 283.7,3246.7 284.5,3244.9 285.4,3243 286.2,3241.2 287.1,3239.4 288,3237.7 288.9,3235.9 289.8,3234.1 290.7,3232.3 291.7,3230.5 292.6,3228.8 293.6,3227 294.5,3225.3 295.5,3223.5 296.5,3221.8 297.5,3220 298.5,3218.3 299.6,3216.6 300.6,3214.8 301.7,3213.1 302.8,3211.4 303.9,3209.7 305,3208 306.2,3206.4 307.3,3204.7 308.5,3203.1 309.7,3201.5 311,3199.9 312.2,3198.3 313.5,3196.8 314.9,3195.3 316.2,3193.8 317.6,3192.3 319,3190.9 320.5,3189.5 321.9,3188.2 323.5,3186.8 325,3185.6 326.6,3184.3 328.2,3183.1 329.9,3182 331.6,3180.9 333.4,3179.8 335.2,3178.8 337,3177.8 338.8,3176.9 340.7,3176.1 342.6,3175.3 344.5,3174.6 346.4,3173.9 348.4,3173.3 350.3,3172.8 352.3,3172.3 354.3,3171.9 356.3,3171.6 358.3,3171.3 360.3,3171.1 362.3,3171 364.3,3171 366.3,3171 368.3,3171.1 370.3,3171.3 372.2,3171.6 374.2,3171.9 376.1,3172.4 378,3172.9 379.9,3173.4 381.7,3174.1 383.5,3174.8 385.3,3175.6 387,3176.5 388.7,3177.4 390.3,3178.4 391.9,3179.5 393.4,3180.6 394.9,3181.8 396.3,3183.1 397.7,3184.4 399.1,3185.8 400.4,3187.3 401.6,3188.7 402.9,3190.3 404.1,3191.8 405.3,3193.4 406.4,3195 407.5,3196.7 408.6,3198.4 409.7,3200.1 410.7,3201.8 411.8,3203.5 412.8,3205.3 413.8,3207 414.8,3208.8 415.8,3210.5 416.8,3212.3 417.7,3214 418.7,3215.8 419.6,3217.6 420.6,3219.4 421.5,3221.1 422.4,3222.9 423.3,3224.7 424.2,3226.5 425.1,3228.3 425.9,3230.1 426.8,3231.9 427.6,3233.7 428.5,3235.5 429.3,3237.4 430.1,3239.2 430.9,3241 431.7,3242.8 432.5,3244.7 433.3,3246.5 434.1,3248.3 434.8,3250.2 435.6,3252 436.3,3253.9 437.1,3255.7 437.8,3257.6 438.5,3259.4 439.2,3261.3 439.9,3263.2 440.6,3265 441.3,3266.9 442,3268.8 442.6,3270.6 443.3,3272.5 444,3274.4 444.6,3276.3 445.2,3278.2 445.9,3280.1 446.5,3281.9 447.1,3283.8 447.7,3285.7 448.3,3287.6 448.9,3289.5 449.5,3291.4 450.1,3293.4 450.7,3295.3 451.3,3297.2 451.8,3299.1 452.4,3301 452.9,3302.9 453.5,3304.8 454,3306.8 454.6,3308.7 455.1,3310.6 455.6,3312.5 456.1,3314.5 456.6,3316.4 457.2,3318.3 457.7,3320.3 458.2,3322.2 458.7,3324.2 459.1,3326.1 459.6,3328 460.1,3330 460.6,3331.9 461.1,3333.9 461.5,3335.8 462,3337.8 462.5,3339.7 462.9,3341.7 463.4,3343.6 463.8,3345.6 464.3,3347.5 464.7,3349.5 465.2,3351.5 465.6,3353.4 466,3355.4 466.5,3357.3 466.9,3359.3 467.3,3361.3 467.7,3363.2 468.2,3365.2 468.6,3367.1 469,3369.1 469.4,3371.1 469.8,3373 470.2,3375 470.7,3377 471.1,3378.9 471.5,3380.9 471.9,3382.9 472.3,3384.8 472.7,3386.8 473.1,3388.8 473.5,3390.7 473.9,3392.7 474.3,3394.7 474.7,3396.7 475.1,3398.6 475.5,3400.6 475.9,3402.6 476.3,3404.5 476.7,3406.5 477.1,3408.5 477.5,3410.4 477.9,3412.4 478.3,3414.4 478.7,3416.3 479.1,3418.3 479.5,3420.3 479.9,3422.2 480.3,3424.2 480.7,3426.2 481.1,3428.1 481.5,3430.1 481.9,3432.1 482.3,3434 482.7,3436 483.1,3437.9 483.6,3439.9 484,3441.9 484.4,3443.8 484.8,3445.8 485.2,3447.7 485.6,3449.7 486,3451.7 486.4,3453.6 486.8,3455.6 487.3,3457.5 487.7,3459.5 488.1,3461.4 488.5,3463.4 488.9,3465.4 489.3,3467.3 489.8,3469.3 490.2,3471.2 490.6,3473.2 491,3475.1 491.4,3477.1 491.9,3479 492.3,3481 492.7,3483 493.1,3484.9 493.5,3486.9 494,3488.8 494.4,3490.8 494.8,3492.7 495.2,3494.7 495.7,3496.6 496.1,3498.6 496.5,3500.5 497,3502.5 497.4,3504.4 497.8,3506.4 498.2,3508.3 498.7,3510.3 499.1,3512.2 499.5,3514.2 500,3516.1 500.4,3518.1 500.8,3520 501.3,3522 501.7,3523.9 502.1,3525.9 502.6,3527.8 503,3529.8 503.4,3531.7 503.9,3533.7 504.3,3535.6 504.8,3537.5 505.2,3539.5 505.6,3541.4 506.1,3543.4 506.5,3545.3 507,3547.3 507.4,3549.2 507.9,3551.2 508.3,3553.1 508.7,3555.1 509.2,3557 509.6,3559 510.1,3560.9 510.5,3562.8 511,3564.8 511.4,3566.7 511.9,3568.7 512.3,3570.6 512.8,3572.6 513.2,3574.5 513.7,3576.5 514.1,3578.4 514.6,3580.3 515,3582.3 515.5,3584.2 515.9,3586.2 516.4,3588.1 516.8,3590.1 517.3,3592 517.8,3593.9 518.2,3595.9 518.7,3597.8 519.1,3599.8 519.6,3601.7 520,3603.7 520.5,3605.6 521,3607.6 521.4,3609.5 521.9,3611.4 522.4,3613.4 522.8,3615.3 523.3,3617.3 523.7,3619.2 524.2,3621.2 524.7,3623.1 525.1,3625 525.6,3627 526.1,3628.9 526.5,3630.9 527,3632.8 527.5,3634.8 528,3636.7 528.4,3638.7 528.9,3640.6 529.4,3642.5 529.8,3644.5 530.3,3646.4 530.8,3648.4 531.3,3650.3 531.7,3652.3 532.2,3654.2 532.7,3656.1 533.2,3658.1 533.6,3660 534.1,3662 534.6,3663.9 535.1,3665.9 535.6,3667.8 536.1,3669.7 536.6,3671.7 537,3673.6 537.5,3675.6 538,3677.5 538.5,3679.4 539,3681.4 539.5,3683.3 540,3685.3 540.5,3687.2 541,3689.1 541.5,3691.1 542,3693 542.5,3694.9 543.1,3696.9 543.6,3698.8 544.1,3700.7 544.6,3702.7 545.1,3704.6 545.6,3706.5 546.2,3708.5 546.7,3710.4 547.2,3712.3 547.8,3714.3 548.3,3716.2 548.8,3718.1 549.4,3720 549.9,3722 550.5,3723.9 551,3725.8 551.6,3727.7 552.1,3729.7 552.7,3731.6 553.3,3733.5 553.8,3735.4 554.4,3737.3 555,3739.2 555.5,3741.2 556.1,3743.1 556.7,3745 557.3,3746.9 557.9,3748.8 558.5,3750.7 559.1,3752.6 559.7,3754.5 560.3,3756.4 560.9,3758.3 561.5,3760.2 562.1,3762.1 562.7,3764 563.3,3765.9 564,3767.8 564.6,3769.7 565.2,3771.6 565.9,3773.5 566.5,3775.4 567.2,3777.3 567.8,3779.1 568.5,3781 569.1,3782.9 569.8,3784.8 570.5,3786.7 571.2,3788.5 571.8,3790.4 572.5,3792.3 573.2,3794.2 573.9,3796 574.6,3797.9 575.3,3799.8 576,3801.6 576.7,3803.5 577.5,3805.4 578.2,3807.2 578.9,3809.1 579.6,3810.9 580.4,3812.8 581.1,3814.6 581.9,3816.5 582.6,3818.3 583.4,3820.2 584.2,3822 584.9,3823.8 585.7,3825.7 586.5,3827.5 587.3,3829.3 588.1,3831.2 588.9,3833 589.7,3834.8 590.5,3836.6 591.3,3838.5 592.2,3840.3 593,3842.1 593.8,3843.9 594.7,3845.7 595.5,3847.5 596.4,3849.3 597.2,3851.1 598.1,3852.9 599,3854.7 599.9,3856.5 600.8,3858.3 601.7,3860.1 602.6,3861.9 603.5,3863.7 604.4,3865.5 605.3,3867.2 606.2,3869 607.2,3870.8 608.1,3872.6 609.1,3874.3 610,3876.1 611,3877.8 612,3879.6 612.9,3881.4 613.9,3883.1 614.9,3884.9 615.9,3886.6 616.9,3888.3 617.9,3890.1 618.9,3891.8 620,3893.5 621,3895.3 622,3897 623.1,3898.7 624.1,3900.4 625.2,3902.1 626.2,3903.8 627.3,3905.5 628.4,3907.2 629.4,3908.9 630.5,3910.6 631.6,3912.3 632.7,3914 633.8,3915.6 634.9,3917.3 636.1,3919 637.2,3920.7 638.3,3922.3 639.5,3924 640.6,3925.6 641.8,3927.3 642.9,3928.9 644.1,3930.5 645.2,3932.2 646.4,3933.8 647.6,3935.4 648.8,3937 650,3938.6 651.2,3940.2 652.4,3941.8 653.6,3943.4 654.9,3945 656.1,3946.6 657.3,3948.2 658.6,3949.8 659.8,3951.3 661.1,3952.9 662.3,3954.5 663.6,3956 664.9,3957.6 666.1,3959.1 667.4,3960.6 668.7,3962.2 670,3963.7 671.3,3965.2 672.6,3966.7 674,3968.2 675.3,3969.7 676.6,3971.2 678,3972.7 679.3,3974.2 680.7,3975.7 682,3977.1 683.4,3978.6 684.7,3980 686.1,3981.5 687.5,3982.9 688.9,3984.4 690.3,3985.8 691.7,3987.2 693.1,3988.6 694.5,3990.1 695.9,3991.5 697.3,3992.9 698.8,3994.2 700.2,3995.6 701.7,3997 703.1,3998.4 704.6,3999.7 706,4001.1 707.5,4002.4 709,4003.8 710.5,4005.1 712,4006.4 713.4,4007.7 714.9,4009 716.5,4010.3 718,4011.6 719.5,4012.9 721,4014.2 722.5,4015.5 724.1,4016.7 725.6,4018 727.2,4019.2 728.7,4020.5 730.3,4021.7 731.9,4022.9 733.4,4024.2 735,4025.4 736.6,4026.6 738.2,4027.8 739.8,4028.9 741.4,4030.1 743,4031.3 744.6,4032.4 746.3,4033.6 747.9,4034.7 749.5,4035.9 751.2,4037 752.8,4038.1 754.5,4039.2 756.2,4040.3 757.8,4041.4 759.5,4042.5 761.2,4043.5 762.9,4044.6 764.6,4045.7 766.2,4046.7 768,4047.7 769.7,4048.8 771.4,4049.8 773.1,4050.8 774.8,4051.8 776.6,4052.8 778.3,4053.7 780,4054.7 781.8,4055.7 783.6,4056.6 785.3,4057.6 787.1,4058.5 788.8,4059.4 790.6,4060.3 792.4,4061.3 794.2,4062.2 796,4063 797.8,4063.9 799.6,4064.8 801.4,4065.7 803.2,4066.5 805,4067.3 806.8,4068.2 808.6,4069 810.5,4069.8 812.3,4070.6 814.1,4071.4 816,4072.2 817.8,4073 819.7,4073.8 821.5,4074.5 823.4,4075.3 825.2,4076 827.1,4076.8 829,4077.5 830.8,4078.2 832.7,4078.9 834.6,4079.6 836.5,4080.3 838.3,4081 840.2,4081.6 842.1,4082.3 844,4083 845.9,4083.6 847.8,4084.2 849.7,4084.9 851.6,4085.5 853.5,4086.1 855.4,4086.7 857.3,4087.3 859.2,4087.8 861.2,4088.4 863.1,4089 865,4089.5 866.9,4090.1 868.9,4090.6 870.8,4091.1 872.7,4091.6 874.6,4092.1 876.6,4092.6 878.5,4093.1 880.4,4093.6 882.4,4094.1 884.3,4094.6 886.3,4095 888.2,4095.5 890.2,4095.9 892.1,4096.3 894.1,4096.8 896,4097.2 898,4097.6 899.9,4098 901.9,4098.4 903.8,4098.8 905.8,4099.2 907.7,4099.6 909.7,4100 911.7,4100.4 913.6,4100.7 915.6,4101.1 917.6,4101.5 919.5,4101.8 921.5,4102.2 923.5,4102.5 925.4,4102.9 927.4,4103.2 929.4,4103.5 931.4,4103.9 933.3,4104.2 935.3,4104.5 937.3,4104.8 939.3,4105.1 941.2,4105.4 943.2,4105.8 945.2,4106.1 947.2,4106.4 949.1,4106.7 951.1,4107 953.1,4107.3 955.1,4107.6 957.1,4107.8 959,4108.1 961,4108.4 963,4108.7 965,4109 967,4109.3 968.9,4109.6 970.9,4109.9 972.9,4110.1 974.9,4110.4 976.9,4110.7 978.9,4111 980.8,4111.3 982.8,4111.6 984.8,4111.8 986.8,4112.1 988.8,4112.4 990.7,4112.7 992.7,4112.9 994.7,4113.2 996.7,4113.5 998.7,4113.8 1000.7,4114 1002.6,4114.3 1004.6,4114.6 1006.6,4114.9 1008.6,4115.1 1010.6,4115.4 1012.6,4115.7 1014.5,4115.9 1016.5,4116.2 1018.5,4116.5 1020.5,4116.7 1022.5,4117 1024.5,4117.3 1026.4,4117.5 1028.4,4117.8 1030.4,4118.1 1032.4,4118.3 1034.4,4118.6 1036.4,4118.9 1038.3,4119.1 1040.3,4119.4 1042.3,4119.6 1044.3,4119.9 1046.3,4120.1 1048.3,4120.4 1050.2,4120.7 1052.2,4120.9 1054.2,4121.2 1056.2,4121.4 1058.2,4121.7 1060.2,4121.9 1062.1,4122.2 1064.1,4122.4 1066.1,4122.7 1068.1,4122.9 1070.1,4123.2 1072.1,4123.4 1074.1,4123.7 1076,4123.9 1078,4124.2 1080,4124.4 1082,4124.7 1084,4124.9 1086,4125.1 1088,4125.4 1089.9,4125.6 1091.9,4125.9 1093.9,4126.1 1095.9,4126.3 1097.9,4126.6 1099.9,4126.8 1101.9,4127.1 1103.8,4127.3 1105.8,4127.5 1107.8,4127.8 1109.8,4128 1111.8,4128.2 1113.8,4128.5 1115.8,4128.7 1117.7,4128.9 1119.7,4129.2 1121.7,4129.4 1123.7,4129.6 1125.7,4129.9 1127.7,4130.1 1129.7,4130.3 1131.7,4130.5 1133.6,4130.8 1135.6,4131 1137.6,4131.2 1139.6,4131.4 1141.6,4131.7 1143.6,4131.9 1145.6,4132.1 1147.6,4132.3 1149.5,4132.5 1151.5,4132.8 1153.5,4133 1155.5,4133.2 1157.5,4133.4 1159.5,4133.6 1161.5,4133.9 1163.5,4134.1 1165.4,4134.3 1167.4,4134.5 1169.4,4134.7 1171.4,4134.9 1173.4,4135.1 1175.4,4135.4 1177.4,4135.6 1179.4,4135.8 1181.4,4136 1183.3,4136.2 1185.3,4136.4 1187.3,4136.6 1189.3,4136.8 1191.3,4137 1193.3,4137.2 1195.3,4137.4 1197.3,4137.6 1199.3,4137.8 1201.2,4138.1 1203.2,4138.3 1205.2,4138.5 1207.2,4138.7 1209.2,4138.9 1211.2,4139.1 1213.2,4139.3 1215.2,4139.5 1217.2,4139.7 1219.1,4139.9 1221.1,4140 1223.1,4140.2 1225.1,4140.4 1227.1,4140.6 1229.1,4140.8 1231.1,4141 1233.1,4141.2 1235.1,4141.4 1237.1,4141.6 1239.1,4141.8 1241,4142 1243,4142.2 1245,4142.4 1247,4142.5 1249,4142.7 1251,4142.9 1253,4143.1 1255,4143.3 1257,4143.5 1259,4143.7 1260.9,4143.8 1262.9,4144 1264.9,4144.2 1266.9,4144.4 1268.9,4144.6 1270.9,4144.8 1272.9,4144.9 1274.9,4145.1 1276.9,4145.3 1278.9,4145.5 1280.9,4145.6 1282.9,4145.8 1284.8,4146 1286.8,4146.2 1288.8,4146.3 1290.8,4146.5 1292.8,4146.7 1294.8,4146.9 1296.8,4147 1298.8,4147.2 1300.8,4147.4 1302.8,4147.6 1304.8,4147.7 1306.8,4147.9 1308.7,4148.1 1310.7,4148.2 1312.7,4148.4 1314.7,4148.6 1316.7,4148.7 1318.7,4148.9 1320.7,4149.1 1322.7,4149.2 1324.7,4149.4 1326.7,4149.6 1328.7,4149.7 1330.7,4149.9 1332.7,4150 1334.6,4150.2 1336.6,4150.4 1338.6,4150.5 1340.6,4150.7 1342.6,4150.8 1344.6,4151 1346.6,4151.1 1348.6,4151.3 1350.6,4151.5 1352.6,4151.6 1354.6,4151.8 1356.6,4151.9 1358.6,4152.1 1360.6,4152.2 1362.6,4152.4 1364.5,4152.5 1366.5,4152.7 1368.5,4152.8 1370.5,4153 1372.5,4153.1 1374.5,4153.3 1376.5,4153.4 1378.5,4153.6 1380.5,4153.7 1382.5,4153.9 1384.5,4154 1386.5,4154.2 1388.5,4154.3 1390.5,4154.4 1392.5,4154.6 1394.5,4154.7 1396.4,4154.9 1398.4,4155 1400.4,4155.1 1402.4,4155.3 1404.4,4155.4 1406.4,4155.6 1408.4,4155.7 1410.4,4155.8 1412.4,4156 1414.4,4156.1 1416.4,4156.2 1418.4,4156.4 1420.4,4156.5 1422.4,4156.7 1424.4,4156.8 1426.4,4156.9 1428.4,4157 1430.4,4157.2 1432.4,4157.3 1434.3,4157.4 1436.3,4157.6 1438.3,4157.7 1440.3,4157.8 1442.3,4158 1444.3,4158.1 1446.3,4158.2 1448.3,4158.3 1450.3,4158.5 1452.3,4158.6 1454.3,4158.7 1456.3,4158.8 1458.3,4159 1460.3,4159.1 1462.3,4159.2 1464.3,4159.3 1466.3,4159.4 1468.3,4159.6 1470.3,4159.7 1472.3,4159.8 1474.3,4159.9 1476.3,4160 1478.2,4160.2 1480.2,4160.3 1482.2,4160.4 1484.2,4160.5 1486.2,4160.6 1488.2,4160.7 1490.2,4160.9 1492.2,4161 1494.2,4161.1 1496.2,4161.2 1498.2,4161.3 1500.2,4161.4 1502.2,4161.5 1504.2,4161.6 1506.2,4161.7 1508.2,4161.9 1510.2,4162 1512.2,4162.1 1514.2,4162.2 1516.2,4162.3 1518.2,4162.4 1520.2,4162.5 1522.2,4162.6 1524.2,4162.7 1526.2,4162.8 1528.2,4162.9 1530.2,4163 1532.2,4163.1 1534.1,4163.2 1536.1,4163.3 1538.1,4163.4 1540.1,4163.5 1542.1,4163.6 1544.1,4163.7 1546.1,4163.8 1548.1,4163.9 1550.1,4164 1552.1,4164.1 1554.1,4164.2 1556.1,4164.3 1558.1,4164.4 1560.1,4164.5 1562.1,4164.6 1564.1,4164.7 1566.1,4164.8 1568.1,4164.9 1570.1,4165 1572.1,4165.1 1574.1,4165.2 1576.1,4165.2 1578.1,4165.3 1580.1,4165.4 1582.1,4165.5 1584.1,4165.6 1586.1,4165.7 1588.1,4165.8 1590.1,4165.9 1592.1,4165.9 1594.1,4166 1596.1,4166.1 1598.1,4166.2 1600.1,4166.3 1602.1,4166.4 1604.1,4166.5 1606.1,4166.5 1608.1,4166.6 1610.1,4166.7 1612.1,4166.8 1614.1,4166.9 1616,4166.9 1618,4167 1620,4167.1 1622,4167.2 1624,4167.3 1626,4167.3 1628,4167.4 1630,4167.5 1632,4167.6 1634,4167.6 1636,4167.7 1638,4167.8 1640,4167.9 1642,4167.9 1644,4168 1646,4168.1 1648,4168.1 1650,4168.2 1652,4168.3 1654,4168.4 1656,4168.4 1658,4168.5 1660,4168.6 1662,4168.6 1664,4168.7 1666,4168.8 1668,4168.8 1670,4168.9 1672,4169 1674,4169 1676,4169.1 1678,4169.2 1680,4169.2 1682,4169.3 1684,4169.4 1686,4169.4 1688,4169.5 1690,4169.5 1692,4169.6 1694,4169.7 1696,4169.7 1698,4169.8 1700,4169.8 1702,4169.9 1704,4170 1706,4170 1708,4170.1 1710,4170.1 1712,4170.2 1714,4170.2 1716,4170.3 1718,4170.3 1720,4170.4 1722,4170.4 1724,4170.5 1726,4170.6 1728,4170.6 1730,4170.7 1732,4170.7 1734,4170.8 1736,4170.8 1738,4170.9 1740,4170.9 1742,4171 1744,4171 1746,4171 1748,4171.1 1750,4171.1 1752,4171.2 1754,4171.2 1756,4171.3 1758,4171.3 1760,4171.4 1762,4171.4 1764,4171.5 1766,4171.5 1768,4171.5 1770,4171.6 1772,4171.6 1774,4171.7 1776,4171.7 1778,4171.7 1780,4171.8 1782,4171.8 1784,4171.9 1786,4171.9 1788,4171.9 1790,4172 1792,4172 1794,4172 1796,4172.1 1798,4172.1 1800,4172.2 1802,4172.2 1804,4172.2 1806,4172.3 1808,4172.3 1810,4172.3 1812,4172.3 1814,4172.4 1816,4172.4 1818,4172.4 1820,4172.5 1822,4172.5 1824,4172.5 1826,4172.6 1828,4172.6 1830,4172.6 1832,4172.6 1834,4172.7 1836,4172.7 1838,4172.7 1840,4172.8 1842,4172.8 1844,4172.8 1846,4172.8 1848,4172.8 1850,4172.9 1852,4172.9 1854,4172.9 1856,4172.9 1858,4173 1860,4173 1862,4173 1864,4173 1866,4173 1868,4173.1 1870,4173.1 1872,4173.1 1874,4173.1 1876,4173.1 1878,4173.2 1880,4173.2 1882,4173.2 1884,4173.2 1886,4173.2 1888,4173.2 1890,4173.3 1892,4173.3 1894,4173.3 1896,4173.3 1898,4173.3 1900,4173.3 1902,4173.3 1904,4173.3 1906,4173.4 1908,4173.4 1910,4173.4 1912,4173.4 1914,4173.4 1916,4173.4 1918,4173.4 1920,4173.4 1922,4173.4 1924,4173.4 1926,4173.4 1928,4173.4 1930,4173.5 1932,4173.5 1934,4173.5 1936,4173.5 1938,4173.5 1940,4173.5 1942,4173.5"/>
<path d="M235.5,3468 235.6,3465.9 235.8,3463.8 235.9,3461.6 236.1,3459.6 236.3,3457.5 236.6,3455.4 236.8,3453.4 237.1,3451.4 237.4,3449.4 237.8,3447.4 238.1,3445.4 238.5,3443.5 238.9,3441.5 239.3,3439.6 239.8,3437.7 240.2,3435.8 240.7,3433.9 241.2,3432 241.7,3430.1 242.3,3428.3 242.8,3426.4 243.4,3424.5 243.9,3422.7 244.5,3420.9 245.1,3419 245.7,3417.2 246.3,3415.4 247,3413.5 247.6,3411.7 248.3,3409.9 248.9,3408.1 249.6,3406.3 250.2,3404.4 250.9,3402.6 251.6,3400.8 252.3,3399 253,3397.2 253.7,3395.3 254.4,3393.5 255,3391.7 255.7,3389.8 256.4,3388 257.1,3386.1 257.8,3384.2 258.5,3382.4 259.2,3380.5 259.9,3378.6 260.5,3376.7 261.2,3374.8 261.9,3372.9 262.5,3370.9 263.2,3369 263.9,3367 264.5,3365.1 265.2,3363.1 265.9,3361.2 266.5,3359.2 267.2,3357.3 267.9,3355.3 268.5,3353.3 269.2,3351.4 269.9,3349.4 270.6,3347.4 271.3,3345.5 272,3343.5 272.7,3341.6 273.5,3339.6 274.2,3337.7 275,3335.8 275.7,3333.9 276.5,3331.9 277.3,3330 278.1,3328.2 279,3326.3 279.8,3324.4 280.7,3322.6 281.6,3320.7 282.5,3318.9 283.4,3317.1 284.3,3315.3 285.3,3313.5 286.3,3311.8 287.3,3310.1 288.3,3308.3 289.4,3306.7 290.5,3305 291.6,3303.3 292.8,3301.7 293.9,3300.1 295.1,3298.6 296.4,3297 297.6,3295.5 298.9,3294 300.3,3292.6 301.6,3291.1 303,3289.8 304.5,3288.4 305.9,3287.1 307.4,3285.8 309,3284.6 310.5,3283.5 312.1,3282.4 313.7,3281.4 315.3,3280.5 317,3279.7 318.6,3278.9 320.3,3278.2 322,3277.7 323.7,3277.2 325.5,3276.9 327.2,3276.6 329,3276.5 330.8,3276.5 332.6,3276.6 334.4,3276.9 336.2,3277.3 338,3277.8 339.8,3278.3 341.6,3279 343.4,3279.8 345.2,3280.7 347,3281.6 348.8,3282.6 350.5,3283.7 352.3,3284.9 354,3286.1 355.6,3287.3 357.3,3288.6 358.9,3289.9 360.5,3291.3 362,3292.6 363.5,3294 364.9,3295.5 366.4,3296.9 367.8,3298.4 369.1,3299.9 370.4,3301.4 371.7,3302.9 373,3304.5 374.2,3306 375.4,3307.6 376.5,3309.2 377.7,3310.8 378.8,3312.5 379.9,3314.1 380.9,3315.8 381.9,3317.5 383,3319.2 383.9,3320.9 384.9,3322.7 385.8,3324.4 386.7,3326.2 387.6,3328 388.5,3329.7 389.3,3331.5 390.2,3333.3 391,3335.2 391.8,3337 392.6,3338.8 393.3,3340.7 394.1,3342.5 394.8,3344.4 395.6,3346.3 396.3,3348.1 397,3350 397.7,3351.9 398.3,3353.8 399,3355.7 399.7,3357.6 400.3,3359.5 401,3361.4 401.6,3363.3 402.3,3365.2 402.9,3367.2 403.5,3369.1 404.2,3371 404.8,3372.9 405.4,3374.8 406,3376.7 406.7,3378.7 407.3,3380.6 407.9,3382.5 408.5,3384.4 409.1,3386.3 409.7,3388.2 410.3,3390.2 410.9,3392.1 411.5,3394 412.1,3395.9 412.7,3397.9 413.3,3399.8 413.9,3401.7 414.5,3403.6 415.1,3405.5 415.6,3407.5 416.2,3409.4 416.8,3411.3 417.4,3413.2 417.9,3415.2 418.5,3417.1 419.1,3419 419.6,3420.9 420.2,3422.9 420.8,3424.8 421.3,3426.7 421.9,3428.6 422.5,3430.6 423,3432.5 423.6,3434.4 424.1,3436.3 424.7,3438.3 425.2,3440.2 425.8,3442.1 426.3,3444.1 426.8,3446 427.4,3447.9 427.9,3449.8 428.5,3451.8 429,3453.7 429.5,3455.6 430.1,3457.6 430.6,3459.5 431.1,3461.4 431.7,3463.3 432.2,3465.3 432.7,3467.2 433.3,3469.1 433.8,3471.1 434.3,3473 434.8,3474.9 435.4,3476.9 435.9,3478.8 436.4,3480.7 436.9,3482.6 437.4,3484.6 438,3486.5 438.5,3488.4 439,3490.4 439.5,3492.3 440,3494.2 440.5,3496.2 441.1,3498.1 441.6,3500 442.1,3502 442.6,3503.9 443.1,3505.8 443.6,3507.8 444.1,3509.7 444.6,3511.6 445.1,3513.5 445.7,3515.5 446.2,3517.4 446.7,3519.3 447.2,3521.3 447.7,3523.2 448.2,3525.1 448.7,3527.1 449.2,3529 449.7,3530.9 450.2,3532.8 450.7,3534.8 451.3,3536.7 451.8,3538.6 452.3,3540.6 452.8,3542.5 453.3,3544.4 453.8,3546.4 454.3,3548.3 454.8,3550.2 455.3,3552.1 455.8,3554.1 456.3,3556 456.9,3557.9 457.4,3559.9 457.9,3561.8 458.4,3563.7 458.9,3565.6 459.4,3567.6 459.9,3569.5 460.4,3571.4 461,3573.3 461.5,3575.3 462,3577.2 462.5,3579.1 463,3581 463.6,3583 464.1,3584.9 464.6,3586.8 465.1,3588.7 465.6,3590.7 466.2,3592.6 466.7,3594.5 467.2,3596.4 467.7,3598.3 468.3,3600.3 468.8,3602.2 469.3,3604.1 469.9,3606 470.4,3607.9 470.9,3609.9 471.5,3611.8 472,3613.7 472.5,3615.6 473.1,3617.5 473.6,3619.5 474.2,3621.4 474.7,3623.3 475.3,3625.2 475.8,3627.1 476.4,3629 476.9,3630.9 477.5,3632.9 478,3634.8 478.6,3636.7 479.1,3638.6 479.7,3640.5 480.3,3642.4 480.8,3644.3 481.4,3646.2 482,3648.2 482.5,3650.1 483.1,3652 483.7,3653.9 484.3,3655.8 484.8,3657.7 485.4,3659.6 486,3661.5 486.6,3663.4 487.2,3665.3 487.8,3667.2 488.4,3669.1 489,3671 489.6,3672.9 490.2,3674.8 490.8,3676.7 491.4,3678.6 492,3680.5 492.6,3682.4 493.2,3684.3 493.8,3686.2 494.4,3688.1 495.1,3690 495.7,3691.9 496.3,3693.8 496.9,3695.7 497.6,3697.6 498.2,3699.5 498.8,3701.4 499.5,3703.3 500.1,3705.2 500.8,3707 501.4,3708.9 502.1,3710.8 502.7,3712.7 503.4,3714.6 504.1,3716.5 504.7,3718.4 505.4,3720.2 506.1,3722.1 506.8,3724 507.4,3725.9 508.1,3727.8 508.8,3729.7 509.5,3731.5 510.2,3733.4 510.9,3735.3 511.6,3737.2 512.3,3739 513,3740.9 513.7,3742.8 514.4,3744.7 515.2,3746.5 515.9,3748.4 516.6,3750.3 517.3,3752.1 518.1,3754 518.8,3755.9 519.6,3757.7 520.3,3759.6 521,3761.4 521.8,3763.3 522.6,3765.2 523.3,3767 524.1,3768.9 524.9,3770.7 525.6,3772.6 526.4,3774.4 527.2,3776.3 528,3778.1 528.8,3780 529.6,3781.8 530.4,3783.6 531.2,3785.5 532,3787.3 532.8,3789.1 533.6,3791 534.4,3792.8 535.3,3794.6 536.1,3796.5 536.9,3798.3 537.8,3800.1 538.6,3801.9 539.5,3803.7 540.3,3805.6 541.2,3807.4 542.1,3809.2 542.9,3811 543.8,3812.8 544.7,3814.6 545.6,3816.4 546.4,3818.2 547.3,3820 548.2,3821.8 549.1,3823.6 550,3825.3 551,3827.1 551.9,3828.9 552.8,3830.7 553.7,3832.5 554.6,3834.2 555.6,3836 556.5,3837.8 557.5,3839.5 558.4,3841.3 559.4,3843 560.3,3844.8 561.3,3846.5 562.3,3848.3 563.3,3850 564.3,3851.8 565.2,3853.5 566.2,3855.2 567.2,3857 568.2,3858.7 569.3,3860.4 570.3,3862.1 571.3,3863.8 572.3,3865.5 573.4,3867.3 574.4,3869 575.4,3870.7 576.5,3872.4 577.5,3874 578.6,3875.7 579.7,3877.4 580.7,3879.1 581.8,3880.8 582.9,3882.4 584,3884.1 585.1,3885.8 586.2,3887.4 587.3,3889.1 588.4,3890.7 589.5,3892.4 590.7,3894 591.8,3895.7 592.9,3897.3 594.1,3898.9 595.2,3900.6 596.4,3902.2 597.5,3903.8 598.7,3905.4 599.9,3907 601.1,3908.6 602.3,3910.2 603.5,3911.8 604.7,3913.4 605.9,3915 607.1,3916.6 608.3,3918.1 609.5,3919.7 610.8,3921.3 612,3922.8 613.2,3924.4 614.5,3925.9 615.7,3927.5 617,3929 618.3,3930.5 619.5,3932.1 620.8,3933.6 622.1,3935.1 623.4,3936.6 624.7,3938.1 626,3939.7 627.3,3941.2 628.6,3942.7 629.9,3944.1 631.3,3945.6 632.6,3947.1 633.9,3948.6 635.3,3950.1 636.6,3951.5 638,3953 639.3,3954.5 640.7,3955.9 642.1,3957.4 643.4,3958.8 644.8,3960.2 646.2,3961.7 647.6,3963.1 649,3964.5 650.4,3965.9 651.8,3967.4 653.2,3968.8 654.6,3970.2 656.1,3971.6 657.5,3973 658.9,3974.4 660.4,3975.7 661.8,3977.1 663.3,3978.5 664.7,3979.9 666.2,3981.2 667.6,3982.6 669.1,3984 670.6,3985.3 672.1,3986.6 673.5,3988 675,3989.3 676.5,3990.7 678,3992 679.5,3993.3 681,3994.6 682.5,3995.9 684.1,3997.2 685.6,3998.5 687.1,3999.8 688.6,4001.1 690.2,4002.4 691.7,4003.7 693.3,4005 694.8,4006.2 696.4,4007.5 697.9,4008.8 699.5,4010 701.1,4011.3 702.6,4012.5 704.2,4013.7 705.8,4015 707.4,4016.2 709,4017.4 710.6,4018.7 712.2,4019.9 713.8,4021.1 715.4,4022.3 717,4023.5 718.6,4024.7 720.2,4025.9 721.8,4027 723.5,4028.2 725.1,4029.4 726.7,4030.6 728.4,4031.7 730,4032.9 731.6,4034 733.3,4035.2 735,4036.3 736.6,4037.5 738.3,4038.6 739.9,4039.7 741.6,4040.8 743.3,4041.9 745,4043 746.7,4044.1 748.3,4045.2 750,4046.3 751.7,4047.4 753.4,4048.4 755.2,4049.5 756.9,4050.5 758.6,4051.5 760.3,4052.5 762,4053.5 763.8,4054.5 765.5,4055.5 767.3,4056.5 769,4057.4 770.8,4058.3 772.6,4059.3 774.3,4060.2 776.1,4061.1 777.9,4062 779.7,4062.8 781.5,4063.7 783.3,4064.5 785.1,4065.3 786.9,4066.1 788.7,4066.9 790.6,4067.7 792.4,4068.4 794.3,4069.2 796.1,4069.9 798,4070.6 799.8,4071.3 801.7,4071.9 803.6,4072.6 805.5,4073.2 807.3,4073.9 809.2,4074.5 811.1,4075.1 813,4075.7 814.9,4076.3 816.8,4076.8 818.8,4077.4 820.7,4077.9 822.6,4078.5 824.5,4079 826.5,4079.5 828.4,4080 830.3,4080.5 832.3,4081 834.2,4081.5 836.1,4082 838.1,4082.5 840,4082.9 842,4083.4 843.9,4083.9 845.9,4084.3 847.8,4084.8 849.8,4085.2 851.7,4085.7 853.7,4086.1 855.6,4086.6 857.6,4087 859.5,4087.4 861.5,4087.9 863.4,4088.3 865.4,4088.7 867.3,4089.1 869.3,4089.6 871.2,4090 873.2,4090.4 875.1,4090.8 877.1,4091.2 879.1,4091.6 881,4092 883,4092.4 884.9,4092.8 886.9,4093.2 888.8,4093.6 890.8,4094 892.8,4094.4 894.7,4094.8 896.7,4095.2 898.7,4095.5 900.6,4095.9 902.6,4096.3 904.5,4096.7 906.5,4097 908.5,4097.4 910.4,4097.8 912.4,4098.1 914.4,4098.5 916.3,4098.9 918.3,4099.2 920.3,4099.6 922.2,4099.9 924.2,4100.3 926.2,4100.6 928.1,4101 930.1,4101.3 932.1,4101.6 934,4102 936,4102.3 938,4102.7 939.9,4103 941.9,4103.3 943.9,4103.7 945.9,4104 947.8,4104.3 949.8,4104.6 951.8,4104.9 953.7,4105.3 955.7,4105.6 957.7,4105.9 959.7,4106.2 961.6,4106.5 963.6,4106.8 965.6,4107.1 967.6,4107.4 969.5,4107.7 971.5,4108.1 973.5,4108.4 975.5,4108.7 977.4,4108.9 979.4,4109.2 981.4,4109.5 983.4,4109.8 985.4,4110.1 987.3,4110.4 989.3,4110.7 991.3,4111 993.3,4111.3 995.2,4111.5 997.2,4111.8 999.2,4112.1 1001.2,4112.4 1003.2,4112.7 1005.1,4112.9 1007.1,4113.2 1009.1,4113.5 1011.1,4113.8 1013.1,4114 1015,4114.3 1017,4114.6 1019,4114.8 1021,4115.1 1023,4115.4 1025,4115.6 1026.9,4115.9 1028.9,4116.1 1030.9,4116.4 1032.9,4116.7 1034.9,4116.9 1036.8,4117.2 1038.8,4117.4 1040.8,4117.7 1042.8,4117.9 1044.8,4118.2 1046.8,4118.4 1048.7,4118.7 1050.7,4118.9 1052.7,4119.2 1054.7,4119.4 1056.7,4119.7 1058.7,4119.9 1060.7,4120.2 1062.6,4120.4 1064.6,4120.7 1066.6,4120.9 1068.6,4121.1 1070.6,4121.4 1072.6,4121.6 1074.5,4121.9 1076.5,4122.1 1078.5,4122.3 1080.5,4122.6 1082.5,4122.8 1084.5,4123.1 1086.5,4123.3 1088.4,4123.5 1090.4,4123.8 1092.4,4124 1094.4,4124.2 1096.4,4124.5 1098.4,4124.7 1100.4,4124.9 1102.3,4125.2 1104.3,4125.4 1106.3,4125.6 1108.3,4125.8 1110.3,4126.1 1112.3,4126.3 1114.3,4126.5 1116.2,4126.7 1118.2,4127 1120.2,4127.2 1122.2,4127.4 1124.2,4127.6 1126.2,4127.9 1128.2,4128.1 1130.1,4128.3 1132.1,4128.5 1134.1,4128.8 1136.1,4129 1138.1,4129.2 1140.1,4129.4 1142.1,4129.6 1144.1,4129.8 1146,4130.1 1148,4130.3 1150,4130.5 1152,4130.7 1154,4130.9 1156,4131.1 1158,4131.4 1160,4131.6 1161.9,4131.8 1163.9,4132 1165.9,4132.2 1167.9,4132.4 1169.9,4132.6 1171.9,4132.8 1173.9,4133 1175.9,4133.2 1177.8,4133.4 1179.8,4133.7 1181.8,4133.9 1183.8,4134.1 1185.8,4134.3 1187.8,4134.5 1189.8,4134.7 1191.8,4134.9 1193.8,4135.1 1195.7,4135.3 1197.7,4135.5 1199.7,4135.7 1201.7,4135.9 1203.7,4136.1 1205.7,4136.3 1207.7,4136.5 1209.7,4136.7 1211.6,4136.9 1213.6,4137.1 1215.6,4137.3 1217.6,4137.5 1219.6,4137.6 1221.6,4137.8 1223.6,4138 1225.6,4138.2 1227.6,4138.4 1229.6,4138.6 1231.5,4138.8 1233.5,4139 1235.5,4139.2 1237.5,4139.4 1239.5,4139.6 1241.5,4139.7 1243.5,4139.9 1245.5,4140.1 1247.5,4140.3 1249.4,4140.5 1251.4,4140.7 1253.4,4140.9 1255.4,4141 1257.4,4141.2 1259.4,4141.4 1261.4,4141.6 1263.4,4141.8 1265.4,4141.9 1267.4,4142.1 1269.4,4142.3 1271.3,4142.5 1273.3,4142.7 1275.3,4142.8 1277.3,4143 1279.3,4143.2 1281.3,4143.4 1283.3,4143.5 1285.3,4143.7 1287.3,4143.9 1289.3,4144.1 1291.2,4144.2 1293.2,4144.4 1295.2,4144.6 1297.2,4144.7 1299.2,4144.9 1301.2,4145.1 1303.2,4145.3 1305.2,4145.4 1307.2,4145.6 1309.2,4145.8 1311.2,4145.9 1313.2,4146.1 1315.1,4146.3 1317.1,4146.4 1319.1,4146.6 1321.1,4146.8 1323.1,4146.9 1325.1,4147.1 1327.1,4147.2 1329.1,4147.4 1331.1,4147.6 1333.1,4147.7 1335.1,4147.9 1337.1,4148 1339,4148.2 1341,4148.4 1343,4148.5 1345,4148.7 1347,4148.8 1349,4149 1351,4149.1 1353,4149.3 1355,4149.4 1357,4149.6 1359,4149.8 1361,4149.9 1363,4150.1 1364.9,4150.2 1366.9,4150.4 1368.9,4150.5 1370.9,4150.7 1372.9,4150.8 1374.9,4151 1376.9,4151.1 1378.9,4151.3 1380.9,4151.4 1382.9,4151.5 1384.9,4151.7 1386.9,4151.8 1388.9,4152 1390.9,4152.1 1392.8,4152.3 1394.8,4152.4 1396.8,4152.6 1398.8,4152.7 1400.8,4152.8 1402.8,4153 1404.8,4153.1 1406.8,4153.3 1408.8,4153.4 1410.8,4153.5 1412.8,4153.7 1414.8,4153.8 1416.8,4153.9 1418.8,4154.1 1420.8,4154.2 1422.7,4154.4 1424.7,4154.5 1426.7,4154.6 1428.7,4154.8 1430.7,4154.9 1432.7,4155 1434.7,4155.2 1436.7,4155.3 1438.7,4155.4 1440.7,4155.5 1442.7,4155.7 1444.7,4155.8 1446.7,4155.9 1448.7,4156.1 1450.7,4156.2 1452.7,4156.3 1454.7,4156.4 1456.6,4156.6 1458.6,4156.7 1460.6,4156.8 1462.6,4156.9 1464.6,4157.1 1466.6,4157.2 1468.6,4157.3 1470.6,4157.4 1472.6,4157.6 1474.6,4157.7 1476.6,4157.8 1478.6,4157.9 1480.6,4158 1482.6,4158.1 1484.6,4158.3 1486.6,4158.4 1488.6,4158.5 1490.6,4158.6 1492.5,4158.7 1494.5,4158.9 1496.5,4159 1498.5,4159.1 1500.5,4159.2 1502.5,4159.3 1504.5,4159.4 1506.5,4159.5 1508.5,4159.6 1510.5,4159.8 1512.5,4159.9 1514.5,4160 1516.5,4160.1 1518.5,4160.2 1520.5,4160.3 1522.5,4160.4 1524.5,4160.5 1526.5,4160.6 1528.5,4160.7 1530.5,4160.8 1532.5,4160.9 1534.5,4161.1 1536.4,4161.2 1538.4,4161.3 1540.4,4161.4 1542.4,4161.5 1544.4,4161.6 1546.4,4161.7 1548.4,4161.8 1550.4,4161.9 1552.4,4162 1554.4,4162.1 1556.4,4162.2 1558.4,4162.3 1560.4,4162.4 1562.4,4162.5 1564.4,4162.6 1566.4,4162.7 1568.4,4162.8 1570.4,4162.9 1572.4,4162.9 1574.4,4163 1576.4,4163.1 1578.4,4163.2 1580.4,4163.3 1582.4,4163.4 1584.4,4163.5 1586.3,4163.6 1588.3,4163.7 1590.3,4163.8 1592.3,4163.9 1594.3,4164 1596.3,4164 1598.3,4164.1 1600.3,4164.2 1602.3,4164.3 1604.3,4164.4 1606.3,4164.5 1608.3,4164.6 1610.3,4164.7 1612.3,4164.7 1614.3,4164.8 1616.3,4164.9 1618.3,4165 1620.3,4165.1 1622.3,4165.2 1624.3,4165.2 1626.3,4165.3 1628.3,4165.4 1630.3,4165.5 1632.3,4165.6 1634.3,4165.6 1636.3,4165.7 1638.3,4165.8 1640.3,4165.9 1642.3,4166 1644.3,4166 1646.3,4166.1 1648.2,4166.2 1650.2,4166.3 1652.2,4166.3 1654.2,4166.4 1656.2,4166.5 1658.2,4166.6 1660.2,4166.6 1662.2,4166.7 1664.2,4166.8 1666.2,4166.9 1668.2,4166.9 1670.2,4167 1672.2,4167.1 1674.2,4167.1 1676.2,4167.2 1678.2,4167.3 1680.2,4167.3 1682.2,4167.4 1684.2,4167.5 1686.2,4167.5 1688.2,4167.6 1690.2,4167.7 1692.2,4167.7 1694.2,4167.8 1696.2,4167.9 1698.2,4167.9 1700.2,4168 1702.2,4168.1 1704.2,4168.1 1706.2,4168.2 1708.2,4168.2 1710.2,4168.3 1712.2,4168.4 1714.2,4168.4 1716.2,4168.5 1718.2,4168.5 1720.2,4168.6 1722.2,4168.7 1724.2,4168.7 1726.2,4168.8 1728.2,4168.8 1730.1,4168.9 1732.1,4168.9 1734.1,4169 1736.1,4169.1 1738.1,4169.1 1740.1,4169.2 1742.1,4169.2 1744.1,4169.3 1746.1,4169.3 1748.1,4169.4 1750.1,4169.4 1752.1,4169.5 1754.1,4169.5 1756.1,4169.6 1758.1,4169.6 1760.1,4169.7 1762.1,4169.7 1764.1,4169.8 1766.1,4169.8 1768.1,4169.9 1770.1,4169.9 1772.1,4170 1774.1,4170 1776.1,4170.1 1778.1,4170.1 1780.1,4170.1 1782.1,4170.2 1784.1,4170.2 1786.1,4170.3 1788.1,4170.3 1790.1,4170.4 1792.1,4170.4 1794.1,4170.4 1796.1,4170.5 1798.1,4170.5 1800.1,4170.6 1802.1,4170.6 1804.1,4170.6 1806.1,4170.7 1808.1,4170.7 1810.1,4170.8 1812.1,4170.8 1814.1,4170.8 1816.1,4170.9 1818.1,4170.9 1820.1,4170.9 1822.1,4171 1824.1,4171 1826.1,4171.1 1828.1,4171.1 1830.1,4171.1 1832.1,4171.2 1834.1,4171.2 1836.1,4171.2 1838.1,4171.2 1840.1,4171.3 1842.1,4171.3 1844.1,4171.3 1846.1,4171.4 1848.1,4171.4 1850.1,4171.4 1852.1,4171.5 1854.1,4171.5 1856,4171.5 1858,4171.5 1860,4171.6 1862,4171.6 1864,4171.6 1866,4171.6 1868,4171.7 1870,4171.7 1872,4171.7 1874,4171.7 1876,4171.8 1878,4171.8 1880,4171.8 1882,4171.8 1884,4171.9 1886,4171.9 1888,4171.9 1890,4171.9 1892,4171.9 1894,4172 1896,4172 1898,4172 1900,4172 1902,4172 1904,4172 1906,4172.1 1908,4172.1 1910,4172.1 1912,4172.1 1914,4172.1 1916,4172.1 1918,4172.2 1920,4172.2 1922,4172.2 1924,4172.2 1926,4172.2 1928,4172.2 1930,4172.2 1932,4172.2 1934,4172.3 1936,4172.3 1938,4172.3 1940,4172.3 1942,4172.3" stroke-dasharray="25 11 7 11"/>
</g>
<g fill="#000">
<rect x="230.6" y="2964.4" width="2.5" height="1234.2" fill="#999"/>
<rect x="233.1" y="2964.4" width="2.6" height="1234.2" fill="#000"/>
<rect x="1939.3" y="2964.4" width="2.5" height="1234.2" fill="#aaa"/>
<rect x="1941.8" y="2964.4" width="2.3" height="1234.2" fill="#000"/>
<rect x="233.3" y="2964.2" width="1711" height="1.2" fill="#bbb"/>
<rect x="233.3" y="2965.4" width="1711" height="3.2" fill="#000"/>
<rect x="233.3" y="2968.6" width="1711" height="1.3" fill="#ccc"/>
<rect x="233.3" y="4192.8" width="1711" height="3" fill="#888"/>
<rect x="233.3" y="4195.8" width="1711" height="2.2" fill="#000"/>
<rect x="214" y="4193.8" width="19.5" height="4.4" fill="#1a1a1a"/>
<rect x="224.9" y="4036.1" width="8.6" height="4.4" fill="#1a1a1a"/>
<rect x="214" y="3878.3" width="19.5" height="4.4" fill="#1a1a1a"/>
<rect x="224.9" y="3720.6" width="8.6" height="4.4" fill="#1a1a1a"/>
<rect x="214" y="3562.8" width="19.5" height="4.4" fill="#1a1a1a"/>
<rect x="224.9" y="3405.1" width="8.6" height="4.4" fill="#1a1a1a"/>
<rect x="214" y="3247.3" width="19.5" height="4.4" fill="#1a1a1a"/>
<rect x="224.9" y="3089.6" width="8.6" height="4.4" fill="#1a1a1a"/>
<rect x="233" y="4196" width="3.2" height="21.6" fill="#050505"/>
<rect x="375.3" y="4196" width="3.2" height="10.8" fill="#050505"/>
<rect x="517.6" y="4196" width="3.2" height="21.6" fill="#050505"/>
<rect x="660" y="4196" width="3.2" height="10.8" fill="#050505"/>
<rect x="802.3" y="4196" width="3.2" height="21.6" fill="#050505"/>
<rect x="944.6" y="4196" width="3.2" height="10.8" fill="#050505"/>
<rect x="1087" y="4196" width="3.2" height="21.6" fill="#050505"/>
<rect x="1229.3" y="4196" width="3.2" height="10.8" fill="#050505"/>
<rect x="1371.6" y="4196" width="3.2" height="21.6" fill="#050505"/>
<rect x="1513.9" y="4196" width="3.2" height="10.8" fill="#050505"/>
<rect x="1656.2" y="4196" width="3.2" height="21.6" fill="#050505"/>
<rect x="1798.6" y="4196" width="3.2" height="10.8" fill="#050505"/>
<rect x="1940.9" y="4196" width="3.2" height="21.6" fill="#050505"/>
</g>
<text x="197" y="4213" font-size="57" text-anchor="end">0</text>
<text x="197" y="3897.5" font-size="57" text-anchor="end">1</text>
<text x="197" y="3582" font-size="57" text-anchor="end">2</text>
<text x="197" y="3266.5" font-size="57" text-anchor="end">3</text>
<text transform="translate(120.3,3962.8) rotate(-90)" font-size="68">Kubelka-Munk units / a.u.</text>
<line x1="1452.6" y1="3449.8" x2="1616.8" y2="3449.8" stroke="#008000" stroke-width="4"/>
<line x1="1452.6" y1="3538.9" x2="1602.5" y2="3538.9" stroke="#008000" stroke-width="4" stroke-dasharray="25 11 7 11"/>
<text x="1634.5" y="3474.4" font-size="73">FeMn</text>
<text x="1634.5" y="3563.6" font-size="73">Fe+Mn</text>
<text transform="translate(1724.9,3188.3) scale(1,1.03)" font-size="190">C</text>
<line x1="343.7" y1="165.7" x2="343.7" y2="475" stroke="#a8a8a8" stroke-width="2.8" stroke-dasharray="2.6 3"/>
<line x1="302.2" y1="1979.2" x2="313.3" y2="2358.5" stroke="#555" stroke-width="2" stroke-dasharray="2.4 3"/>
<line x1="376.2" y1="3117" x2="317.5" y2="3342" stroke="#555" stroke-width="2" stroke-dasharray="2.4 3"/>
<text transform="translate(374.5,154.3) rotate(-90)" font-size="53.5">240</text>
<text transform="translate(322.6,1972.4) rotate(-90)" font-size="53.5">225</text>
<text transform="translate(1545,1160.5) rotate(-90) scale(1,1.06)" font-size="51.5">~650</text>
<text transform="translate(1531.4,2614.3) rotate(-90) scale(1,1.06)" font-size="51.5">~650</text>
<text x="339.7" y="3096.7" font-size="53.5">245</text>
<text x="273.5" y="3389.7" font-size="53.5">235</text>
<text x="233.8" y="4282" font-size="63" text-anchor="middle">200</text>
<text x="518.5" y="4282" font-size="63" text-anchor="middle">300</text>
<text x="803.1" y="4282" font-size="63" text-anchor="middle">400</text>
<text x="1087.8" y="4282" font-size="63" text-anchor="middle">500</text>
<text x="1372.4" y="4282" font-size="63" text-anchor="middle">600</text>
<text x="1657" y="4282" font-size="63" text-anchor="middle">700</text>
<text x="1941.7" y="4282" font-size="63" text-anchor="middle">800</text>
<text x="833" y="4388.2" font-size="68.3">Wavelength / nm</text>
</svg></body></html>
